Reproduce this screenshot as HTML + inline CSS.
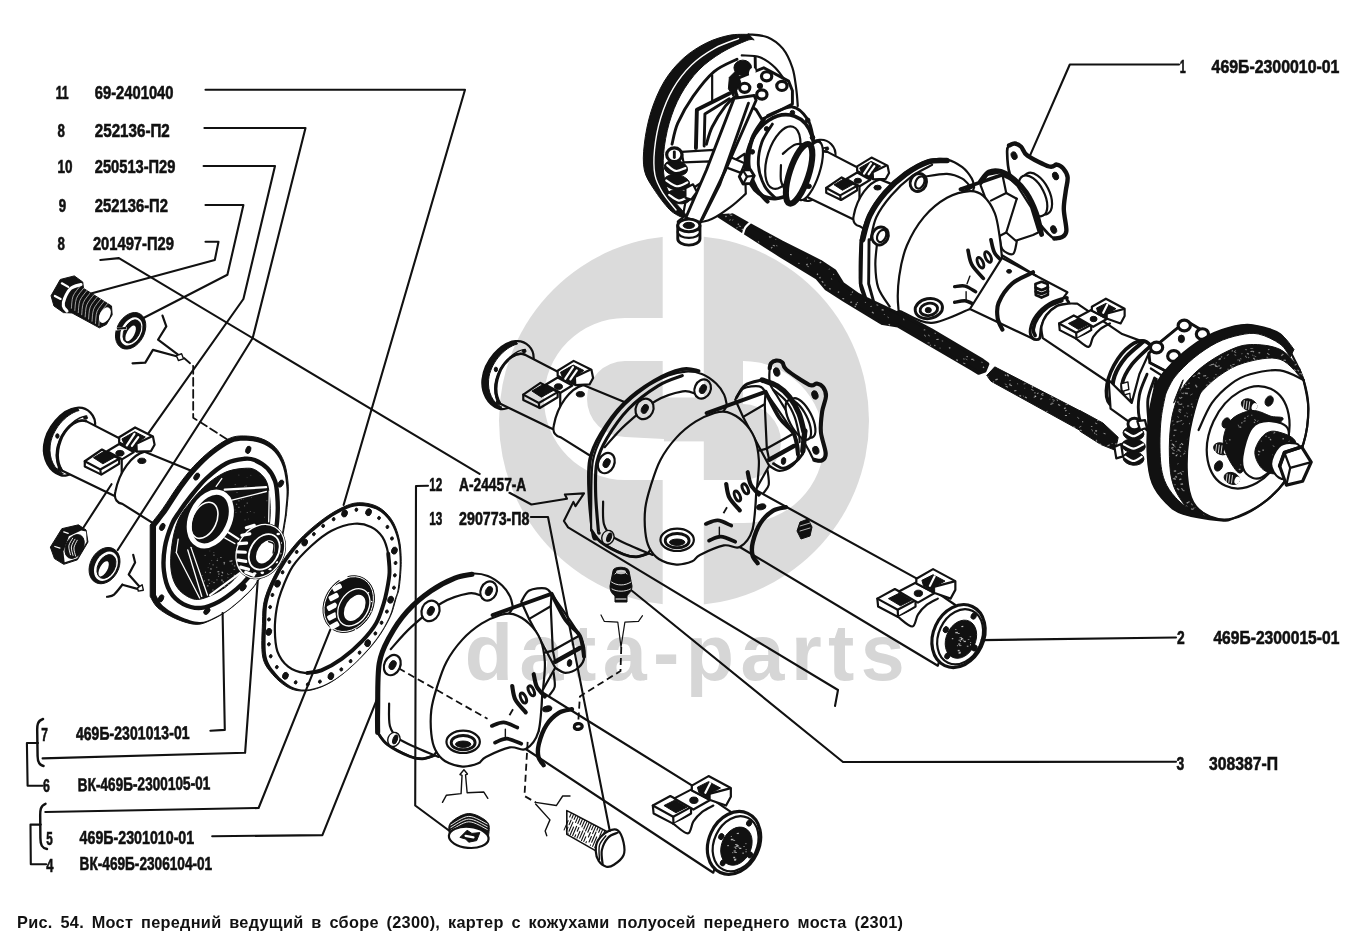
<!DOCTYPE html>
<html><head><meta charset="utf-8">
<style>
html,body{margin:0;padding:0;background:#fff;}
body{width:1370px;height:942px;overflow:hidden;position:relative;font-family:"Liberation Sans",sans-serif;}
svg{position:absolute;left:0;top:0;}
.lb{font-family:"Liberation Sans",sans-serif;font-weight:bold;font-size:18.5px;fill:#111;stroke:#111;stroke-width:0.6;}
.cap{font-family:"Liberation Sans",sans-serif;font-weight:bold;font-size:16.3px;fill:#111;}
.wm{font-family:"Liberation Sans",sans-serif;font-weight:bold;fill:#d6d6d6;}
path,ellipse,circle,line,polyline,polygon,rect{vector-effect:non-scaling-stroke;}
.k{fill:none;stroke:#111;stroke-width:2.2;stroke-linejoin:round;stroke-linecap:round;}
.k1{fill:none;stroke:#111;stroke-width:1.4;stroke-linejoin:round;stroke-linecap:round;}
.k2{fill:none;stroke:#111;stroke-width:2.9;stroke-linejoin:round;stroke-linecap:round;}
.k3{fill:none;stroke:#111;stroke-width:4.2;stroke-linejoin:round;stroke-linecap:round;}
.k4{fill:none;stroke:#111;stroke-width:6;stroke-linejoin:round;stroke-linecap:round;}
.f{fill:#111;stroke:#111;stroke-width:1;stroke-linejoin:round;}
.w{fill:#fff;stroke:#111;stroke-width:2.2;stroke-linejoin:round;stroke-linecap:round;}
.w1{fill:#fff;stroke:#111;stroke-width:1.4;stroke-linejoin:round;stroke-linecap:round;}
.w2{fill:#fff;stroke:#111;stroke-width:2.9;stroke-linejoin:round;stroke-linecap:round;}
.wn{fill:#fff;stroke:none;}
.wk{fill:none;stroke:#fff;stroke-width:1.3;stroke-linejoin:round;stroke-linecap:round;}
.wk2{fill:none;stroke:#fff;stroke-width:2.2;stroke-linejoin:round;stroke-linecap:round;}
.d{fill:none;stroke:#111;stroke-width:1.8;stroke-dasharray:7 4;}
.ln{fill:none;stroke:#111;stroke-width:2.1;stroke-linejoin:round;stroke-linecap:round;}
</style></head><body>
<svg width="1370" height="942" viewBox="0 0 1370 942">
<!-- 20_A_rod.svg -->
<g id="A_rod" transform="translate(630,20) scale(0.19108)">
<path class="f" d="M487.3 993.2 L612.3 1064 L795.7 1164 L995.7 1264 L1070.7 1314 L1112.3 1380.7 L1195.7 1439 L1425 1541.3 L1575 1621.3 L1845 1781.3 L1871 1800.3 L1857 1835.3 L1824 1847.3 L1792 1827.3 L1402 1599.3 L1322 1587.3 L1311 1581.7 L1119.3 1465 L1027.7 1406.7 L977.7 1348.3 L786 1231.7 L602.7 1115 L461 1023.3Z" stroke-linejoin="round" style="stroke-width:3.66"/>
<path class="f" d="M1867 1860.3 L1909 1815.3 L2355 2045.3 L2355 2044 L2475 2109 L2555 2184 L2540 2252 L2465 2222 L2355 2152 L2355 2147.3 L1889 1890.3Z"/>
<rect class="wn" x="1177" y="1494" width="7" height="7" opacity="0.55" transform="rotate(20 1177 1494)"/>
<rect class="wn" x="1845" y="1817" width="7" height="7" opacity="0.55" transform="rotate(-39 1845 1817)"/>
<rect class="wn" x="736" y="1192" width="9" height="6" opacity="0.55" transform="rotate(-40 736 1192)"/>
<rect class="wn" x="924" y="1246" width="6" height="3" opacity="0.55" transform="rotate(-29 924 1246)"/>
<rect class="wn" x="1153" y="1437" width="6" height="4" opacity="0.55" transform="rotate(-11 1153 1437)"/>
<rect class="wn" x="965" y="1259" width="5" height="3" opacity="0.55" transform="rotate(36 965 1259)"/>
<rect class="wn" x="1268" y="1526" width="11" height="6" opacity="0.55" transform="rotate(34 1268 1526)"/>
<rect class="wn" x="588" y="1091" width="9" height="6" opacity="0.55" transform="rotate(53 588 1091)"/>
<rect class="wn" x="1113" y="1455" width="5" height="5" opacity="0.55" transform="rotate(36 1113 1455)"/>
<rect class="wn" x="1594" y="1637" width="8" height="4" opacity="0.55" transform="rotate(9 1594 1637)"/>
<rect class="wn" x="518" y="1047" width="9" height="4" opacity="0.55" transform="rotate(-26 518 1047)"/>
<rect class="wn" x="1349" y="1552" width="10" height="3" opacity="0.55" transform="rotate(47 1349 1552)"/>
<rect class="wn" x="944" y="1272" width="8" height="3" opacity="0.55" transform="rotate(52 944 1272)"/>
<rect class="wn" x="1838" y="1789" width="9" height="3" opacity="0.55" transform="rotate(4 1838 1789)"/>
<rect class="wn" x="1164" y="1419" width="6" height="7" opacity="0.55" transform="rotate(39 1164 1419)"/>
<rect class="wn" x="990" y="1346" width="7" height="7" opacity="0.55" transform="rotate(-14 990 1346)"/>
<rect class="wn" x="768" y="1177" width="7" height="4" opacity="0.55" transform="rotate(54 768 1177)"/>
<rect class="wn" x="1007" y="1364" width="11" height="7" opacity="0.55" transform="rotate(50 1007 1364)"/>
<rect class="wn" x="560" y="1083" width="5" height="7" opacity="0.55" transform="rotate(38 560 1083)"/>
<rect class="wn" x="1186" y="1478" width="7" height="4" opacity="0.55" transform="rotate(-17 1186 1478)"/>
<rect class="wn" x="570" y="1075" width="11" height="6" opacity="0.55" transform="rotate(14 570 1075)"/>
<rect class="wn" x="736" y="1134" width="5" height="5" opacity="0.55" transform="rotate(-30 736 1134)"/>
<rect class="wn" x="1557" y="1688" width="11" height="4" opacity="0.55" transform="rotate(2 1557 1688)"/>
<rect class="wn" x="1542" y="1646" width="11" height="4" opacity="0.55" transform="rotate(52 1542 1646)"/>
<rect class="wn" x="1086" y="1424" width="8" height="6" opacity="0.55" transform="rotate(-39 1086 1424)"/>
<rect class="wn" x="1257" y="1498" width="9" height="4" opacity="0.55" transform="rotate(-16 1257 1498)"/>
<rect class="wn" x="498" y="1025" width="8" height="7" opacity="0.55" transform="rotate(-5 498 1025)"/>
<rect class="wn" x="563" y="1066" width="7" height="7" opacity="0.55" transform="rotate(-10 563 1066)"/>
<rect class="wn" x="1786" y="1773" width="12" height="7" opacity="0.55" transform="rotate(-1 1786 1773)"/>
<rect class="wn" x="980" y="1326" width="7" height="7" opacity="0.55" transform="rotate(32 980 1326)"/>
<rect class="wn" x="1116" y="1455" width="5" height="7" opacity="0.55" transform="rotate(6 1116 1455)"/>
<rect class="wn" x="1055" y="1352" width="7" height="4" opacity="0.55" transform="rotate(54 1055 1352)"/>
<rect class="wn" x="1757" y="1772" width="12" height="3" opacity="0.55" transform="rotate(34 1757 1772)"/>
<rect class="wn" x="1745" y="1793" width="12" height="5" opacity="0.55" transform="rotate(22 1745 1793)"/>
<rect class="wn" x="1712" y="1774" width="10" height="7" opacity="0.55" transform="rotate(58 1712 1774)"/>
<rect class="wn" x="1619" y="1715" width="7" height="3" opacity="0.55" transform="rotate(5 1619 1715)"/>
<rect class="wn" x="1016" y="1387" width="6" height="6" opacity="0.55" transform="rotate(-39 1016 1387)"/>
<rect class="wn" x="1668" y="1714" width="8" height="7" opacity="0.55" transform="rotate(-21 1668 1714)"/>
<rect class="wn" x="927" y="1285" width="12" height="3" opacity="0.55" transform="rotate(31 927 1285)"/>
<rect class="wn" x="1572" y="1698" width="7" height="5" opacity="0.55" transform="rotate(58 1572 1698)"/>
<rect class="wn" x="1184" y="1483" width="8" height="7" opacity="0.55" transform="rotate(51 1184 1483)"/>
<rect class="wn" x="1328" y="1540" width="5" height="4" opacity="0.55" transform="rotate(-15 1328 1540)"/>
<rect class="wn" x="991" y="1268" width="9" height="7" opacity="0.55" transform="rotate(-32 991 1268)"/>
<rect class="wn" x="1231" y="1474" width="7" height="4" opacity="0.55" transform="rotate(43 1231 1474)"/>
<rect class="wn" x="882" y="1270" width="6" height="6" opacity="0.55" transform="rotate(17 882 1270)"/>
<rect class="wn" x="525" y="1019" width="10" height="5" opacity="0.55" transform="rotate(1 525 1019)"/>
<rect class="wn" x="1761" y="1759" width="8" height="5" opacity="0.55" transform="rotate(5 1761 1759)"/>
<rect class="wn" x="1356" y="1589" width="8" height="7" opacity="0.55" transform="rotate(40 1356 1589)"/>
<rect class="wn" x="1318" y="1512" width="11" height="7" opacity="0.55" transform="rotate(16 1318 1512)"/>
<rect class="wn" x="1561" y="1646" width="12" height="3" opacity="0.55" transform="rotate(43 1561 1646)"/>
<rect class="wn" x="1039" y="1304" width="8" height="3" opacity="0.55" transform="rotate(-24 1039 1304)"/>
<rect class="wn" x="1537" y="1620" width="8" height="5" opacity="0.55" transform="rotate(-8 1537 1620)"/>
<rect class="wn" x="1795" y="1781" width="8" height="3" opacity="0.55" transform="rotate(-20 1795 1781)"/>
<rect class="wn" x="748" y="1176" width="12" height="5" opacity="0.55" transform="rotate(20 748 1176)"/>
<rect class="wn" x="518" y="1014" width="12" height="7" opacity="0.55" transform="rotate(-39 518 1014)"/>
<rect class="wn" x="1432" y="1562" width="10" height="4" opacity="0.55" transform="rotate(60 1432 1562)"/>
<rect class="wn" x="1064" y="1328" width="5" height="6" opacity="0.55" transform="rotate(9 1064 1328)"/>
<rect class="wn" x="1743" y="1772" width="9" height="3" opacity="0.55" transform="rotate(8 1743 1772)"/>
<rect class="wn" x="672" y="1157" width="8" height="5" opacity="0.55" transform="rotate(47 672 1157)"/>
<rect class="wn" x="731" y="1130" width="10" height="7" opacity="0.55" transform="rotate(48 731 1130)"/>
<rect class="wn" x="1152" y="1474" width="10" height="6" opacity="0.55" transform="rotate(-4 1152 1474)"/>
<rect class="wn" x="1042" y="1404" width="10" height="5" opacity="0.55" transform="rotate(10 1042 1404)"/>
<rect class="wn" x="921" y="1278" width="8" height="7" opacity="0.55" transform="rotate(-24 921 1278)"/>
<rect class="wn" x="1632" y="1677" width="7" height="4" opacity="0.55" transform="rotate(8 1632 1677)"/>
<rect class="wn" x="838" y="1224" width="9" height="6" opacity="0.55" transform="rotate(9 838 1224)"/>
<rect class="wn" x="533" y="1048" width="9" height="3" opacity="0.55" transform="rotate(-40 533 1048)"/>
<rect class="wn" x="1603" y="1669" width="12" height="6" opacity="0.55" transform="rotate(-1 1603 1669)"/>
<rect class="wn" x="1593" y="1700" width="6" height="6" opacity="0.55" transform="rotate(11 1593 1700)"/>
<rect class="wn" x="762" y="1146" width="5" height="4" opacity="0.55" transform="rotate(29 762 1146)"/>
<rect class="wn" x="1291" y="1487" width="10" height="6" opacity="0.55" transform="rotate(20 1291 1487)"/>
<rect class="wn" x="2342" y="2077" width="13" height="3" opacity="0.55" transform="rotate(44 2342 2077)"/>
<rect class="wn" x="2119" y="1963" width="8" height="3" opacity="0.55" transform="rotate(33 2119 1963)"/>
<rect class="wn" x="1902" y="1890" width="6" height="6" opacity="0.55" transform="rotate(37 1902 1890)"/>
<rect class="wn" x="2195" y="1983" width="5" height="3" opacity="0.55" transform="rotate(-16 2195 1983)"/>
<rect class="wn" x="2112" y="1973" width="11" height="5" opacity="0.55" transform="rotate(-26 2112 1973)"/>
<rect class="wn" x="2040" y="1961" width="10" height="7" opacity="0.55" transform="rotate(33 2040 1961)"/>
<rect class="wn" x="2010" y="1938" width="12" height="6" opacity="0.55" transform="rotate(-10 2010 1938)"/>
<rect class="wn" x="2102" y="1920" width="5" height="7" opacity="0.55" transform="rotate(-35 2102 1920)"/>
<rect class="wn" x="2203" y="1969" width="12" height="4" opacity="0.55" transform="rotate(17 2203 1969)"/>
<rect class="wn" x="2063" y="1926" width="5" height="3" opacity="0.55" transform="rotate(-24 2063 1926)"/>
<rect class="wn" x="1962" y="1902" width="12" height="3" opacity="0.55" transform="rotate(31 1962 1902)"/>
<rect class="wn" x="2412" y="2125" width="8" height="5" opacity="0.55" transform="rotate(-6 2412 2125)"/>
<rect class="wn" x="1964" y="1854" width="9" height="5" opacity="0.55" transform="rotate(49 1964 1854)"/>
<rect class="wn" x="1987" y="1906" width="14" height="6" opacity="0.55" transform="rotate(22 1987 1906)"/>
<rect class="wn" x="2101" y="1919" width="10" height="3" opacity="0.55" transform="rotate(-12 2101 1919)"/>
<rect class="wn" x="2059" y="1903" width="11" height="5" opacity="0.55" transform="rotate(-12 2059 1903)"/>
<rect class="wn" x="2211" y="1985" width="13" height="4" opacity="0.55" transform="rotate(18 2211 1985)"/>
<rect class="wn" x="2115" y="1949" width="7" height="6" opacity="0.55" transform="rotate(-12 2115 1949)"/>
<rect class="wn" x="2207" y="2002" width="10" height="5" opacity="0.55" transform="rotate(12 2207 2002)"/>
<rect class="wn" x="2146" y="1981" width="11" height="6" opacity="0.55" transform="rotate(-17 2146 1981)"/>
<rect class="wn" x="1983" y="1904" width="9" height="3" opacity="0.55" transform="rotate(-6 1983 1904)"/>
<rect class="wn" x="2441" y="2196" width="10" height="5" opacity="0.55" transform="rotate(58 2441 2196)"/>
<rect class="wn" x="1984" y="1886" width="9" height="4" opacity="0.55" transform="rotate(-17 1984 1886)"/>
<rect class="wn" x="2068" y="1970" width="11" height="6" opacity="0.55" transform="rotate(26 2068 1970)"/>
<rect class="wn" x="2366" y="2099" width="5" height="7" opacity="0.55" transform="rotate(-11 2366 2099)"/>
<rect class="wn" x="2438" y="2164" width="11" height="3" opacity="0.55" transform="rotate(43 2438 2164)"/>
<rect class="wn" x="2435" y="2146" width="10" height="7" opacity="0.55" transform="rotate(8 2435 2146)"/>
<rect class="wn" x="2101" y="1931" width="14" height="4" opacity="0.55" transform="rotate(29 2101 1931)"/>
<rect class="wn" x="2058" y="1965" width="6" height="3" opacity="0.55" transform="rotate(54 2058 1965)"/>
<rect class="wn" x="2270" y="2030" width="10" height="7" opacity="0.55" transform="rotate(-21 2270 2030)"/>
<rect class="wn" x="2276" y="2067" width="11" height="5" opacity="0.55" transform="rotate(-1 2276 2067)"/>
<rect class="wn" x="2497" y="2227" width="14" height="6" opacity="0.55" transform="rotate(-31 2497 2227)"/>
<rect class="wn" x="2119" y="1968" width="7" height="5" opacity="0.55" transform="rotate(3 2119 1968)"/>
<rect class="wn" x="2027" y="1901" width="6" height="4" opacity="0.55" transform="rotate(35 2027 1901)"/>
<rect class="wn" x="2199" y="2008" width="11" height="5" opacity="0.55" transform="rotate(-6 2199 2008)"/>
<rect class="wn" x="2358" y="2143" width="8" height="7" opacity="0.55" transform="rotate(27 2358 2143)"/>
<rect class="wn" x="2320" y="2127" width="10" height="5" opacity="0.55" transform="rotate(11 2320 2127)"/>
<rect class="wn" x="2479" y="2160" width="11" height="5" opacity="0.55" transform="rotate(21 2479 2160)"/>
<rect class="wn" x="2156" y="1952" width="9" height="6" opacity="0.55" transform="rotate(12 2156 1952)"/>
<rect class="wn" x="2178" y="2047" width="8" height="4" opacity="0.55" transform="rotate(-14 2178 2047)"/>
<rect class="wn" x="1967" y="1914" width="13" height="5" opacity="0.55" transform="rotate(27 1967 1914)"/>
<rect class="wn" x="2431" y="2158" width="7" height="4" opacity="0.55" transform="rotate(57 2431 2158)"/>
<rect class="wn" x="2242" y="2009" width="12" height="7" opacity="0.55" transform="rotate(26 2242 2009)"/>
<rect class="wn" x="2444" y="2096" width="11" height="5" opacity="0.55" transform="rotate(-38 2444 2096)"/>
<rect class="wn" x="2213" y="1996" width="7" height="3" opacity="0.55" transform="rotate(2 2213 1996)"/>
<rect class="wn" x="2417" y="2141" width="13" height="3" opacity="0.55" transform="rotate(59 2417 2141)"/>
<rect class="wn" x="1911" y="1880" width="13" height="7" opacity="0.55" transform="rotate(-19 1911 1880)"/>
<rect class="wn" x="2152" y="1957" width="14" height="5" opacity="0.55" transform="rotate(28 2152 1957)"/>
<rect class="wn" x="2296" y="2059" width="7" height="3" opacity="0.55" transform="rotate(0 2296 2059)"/>
<rect class="wn" x="2435" y="2107" width="12" height="4" opacity="0.55" transform="rotate(25 2435 2107)"/>
<rect class="wn" x="2234" y="1985" width="10" height="4" opacity="0.55" transform="rotate(46 2234 1985)"/>
<rect class="wn" x="2349" y="2131" width="14" height="4" opacity="0.55" transform="rotate(-35 2349 2131)"/>
<rect class="wn" x="1976" y="1853" width="12" height="7" opacity="0.55" transform="rotate(48 1976 1853)"/>
<rect class="wn" x="2276" y="2044" width="9" height="5" opacity="0.55" transform="rotate(-30 2276 2044)"/>
<rect class="wn" x="2279" y="2012" width="13" height="4" opacity="0.55" transform="rotate(-15 2279 2012)"/>
<rect class="wn" x="1874" y="1862" width="5" height="5" opacity="0.55" transform="rotate(57 1874 1862)"/>
<rect class="wn" x="2520" y="2214" width="6" height="3" opacity="0.55" transform="rotate(1 2520 2214)"/>
<rect class="wn" x="2460" y="2215" width="11" height="6" opacity="0.55" transform="rotate(48 2460 2215)"/>
<rect class="wn" x="2539" y="2217" width="6" height="6" opacity="0.55" transform="rotate(-24 2539 2217)"/>
<rect class="wn" x="2129" y="1954" width="9" height="5" opacity="0.55" transform="rotate(-31 2129 1954)"/>
<path class="wk2" d="M633 1056.3 C628.1 1061.2 610.8 1075.1 603.8 1085.5 C596.9 1095.9 593.4 1113.3 591.3 1118.8"/>
</g>

<!-- 20b_A_ltube.svg -->
<use href="#D_tube" transform="translate(871.5,157.6) scale(0.9) translate(-135.1,-427.5)"/>

<!-- 21_A_left.svg -->
<g id="A_left" transform="translate(630,20) scale(0.19108)">
<path class="wn" d="M620 75 C636.7 77.5 690 77.5 720 90 C750 102.5 778.3 123.3 800 150 C821.7 176.7 838.3 215 850 250 C861.7 285 865.3 326.7 870 360 C874.7 393.3 876.7 435 878 450 L900 700 L700 1000 L300 1028 L300 1026 C294.7 1020 282.3 1007.3 268 990 C253.7 972.7 228.7 948.7 214 922 C199.3 895.3 186.3 867.3 180 830 C173.7 792.7 171.8 746.3 176 698 C180.2 649.7 190.2 591 205 540 C219.8 489 239.2 438.3 265 392 C290.8 345.7 324.2 299 360 262 C395.8 225 438.3 195.7 480 170 C521.7 144.3 581.7 119 610 108 C638.3 97 643.3 104.7 650 104Z"/>
<path class="k" d="M620 75 C636.7 77.5 690 77.5 720 90 C750 102.5 778.3 123.3 800 150 C821.7 176.7 838.3 215 850 250 C861.7 285 865.3 326.7 870 360 C874.7 393.3 876.7 435 878 450"/>
<path class="w" d="M275 1035 C272 1039.3 234.8 1058.7 257 1061 C279.2 1063.3 363.3 1062.7 408 1049 C452.7 1035.3 492 1002.3 525 979 C558 955.7 592.5 920.7 606 909 L600 700 L300 900Z"/>
<path class="f" d="M620 75 C603.3 75.8 556.7 72.5 520 80 C483.3 87.5 440 100 400 120 C360 140 316.7 166.7 280 200 C243.3 233.3 208.3 273.3 180 320 C151.7 366.7 127.5 425 110 480 C92.5 535 80.8 599.2 75 650 C69.2 700.8 66.7 745.8 75 785 C83.3 824.2 102.8 850.3 125 885 C147.2 919.7 183 968 208 993 C233 1018 263.8 1028 275 1035 L300 1026 C294.7 1020 282.3 1007.3 268 990 C253.7 972.7 228.7 948.7 214 922 C199.3 895.3 186.3 867.3 180 830 C173.7 792.7 171.8 746.3 176 698 C180.2 649.7 190.2 591 205 540 C219.8 489 239.2 438.3 265 392 C290.8 345.7 324.2 299 360 262 C395.8 225 438.3 195.7 480 170 C521.7 144.3 581.7 119 610 108 C638.3 97 643.3 104.7 650 104Z"/>
<path class="wk" d="M568 97 C547.2 105.5 483.8 125.2 443 148 C402.2 170.8 359.2 198.8 323 234 C286.8 269.2 252.6 312.5 225.5 359 C198.4 405.5 176.7 460 160.5 513 C144.3 566 133.5 627.4 128.5 677 C123.5 726.6 123.2 772.2 130.5 810.5 C137.8 848.8 154.1 875.8 172.5 906.5 C190.9 937.2 229.6 979.8 241 994.5" style="stroke-width:1.40"/>
<path class="k2" d="M560 205 C540 215.8 478.3 237.5 440 270 C401.7 302.5 361.7 355 330 400 C298.3 445 268.3 498.3 250 540 C231.7 581.7 225 631.7 220 650"/>
<path class="k" d="M585 185 C600.8 186.7 650.8 184.2 680 195 C709.2 205.8 736.7 227.5 760 250 C783.3 272.5 810 316.7 820 330"/>
<path class="k2" d="M655 195 L660 460"/>
<path class="w" d="M545 335 L575 300 L700 250 L830 320 L850 370 L850 440 L690 520 L660 470 L560 400Z" style="stroke-width:2.93"/>
<ellipse class="f" cx="590" cy="250" rx="46" ry="40"/>
<ellipse class="wn" cx="640" cy="275" rx="17" ry="26" transform="rotate(15 640 275)"/>
<path class="f" d="M520 300 L560 260 L580 330 L540 400 L515 360Z"/>
<ellipse class="w" cx="600" cy="355" rx="27" ry="24" style="stroke-width:3.17"/>
<ellipse class="w" cx="715" cy="295" rx="27" ry="24" style="stroke-width:3.17"/>
<ellipse class="w" cx="690" cy="390" rx="27" ry="24" style="stroke-width:3.17"/>
<ellipse class="w" cx="795" cy="345" rx="27" ry="24" style="stroke-width:3.17"/>
<ellipse class="f" cx="680" cy="345" rx="14" ry="14"/>
<path class="k3" d="M345 670 L350 470 L520 385" style="stroke-width:3.90"/>
<path class="k2" d="M388 660 L392 492 L520 412"/>
<path class="k" d="M430 290 L430 425"/>
<path class="k2" d="M400 650 C405 635 413.3 593.3 430 560 C446.7 526.7 478.3 478 500 450 C521.7 422 550 401.7 560 392"/>
<path class="k2" d="M470 640 C478.3 620 500 554.7 520 520 C540 485.3 578.3 446.7 590 432"/>
<path class="w" d="M270 690 L440 680 L600 750 L580 800 L420 740 L280 745Z"/>
<ellipse class="w" cx="785" cy="715" rx="170" ry="225" transform="rotate(20 785 715)" style="stroke-width:3.66"/>
<path class="k3" d="M700 520 C690 536.7 653.3 580 640 620 C626.7 660 616.7 716.7 620 760 C623.3 803.3 643.3 848.3 660 880 C676.7 911.7 710 938.3 720 950" style="stroke-width:4.15"/>
<path class="k2" d="M720 500 C741.7 492.5 815 451.7 850 455 C885 458.3 911.7 492.5 930 520 C948.3 547.5 955 603.3 960 620"/>
<path class="k2" d="M745 545 C735.8 560.8 702.2 604.2 690 640 C677.8 675.8 669.5 721.7 672 760 C674.5 798.3 689.5 840.8 705 870 C720.5 899.2 755 924.2 765 935"/>
<ellipse class="f" cx="850" cy="485" rx="12" ry="12"/>
<ellipse class="f" cx="930" cy="525" rx="12" ry="12"/>
<ellipse class="f" cx="955" cy="615" rx="12" ry="12"/>
<ellipse class="f" cx="715" cy="570" rx="12" ry="12"/>
<ellipse class="f" cx="640" cy="690" rx="12" ry="12"/>
<ellipse class="w" cx="800" cy="720" rx="80" ry="170" transform="rotate(18 800 720)"/>
<path class="k" d="M800 700 C811.7 691.7 843.3 656.7 870 650 C896.7 643.3 945 658.3 960 660"/>
<path class="k" d="M790 760 C790 773.3 786.7 818.3 790 840 C793.3 861.7 806.7 881.7 810 890"/>
<ellipse class="w" cx="940" cy="790" rx="52" ry="160" transform="rotate(18 940 790)"/>
<ellipse class="w" cx="885" cy="805" rx="50" ry="163" transform="rotate(18 885 805)" style="stroke-width:6.10"/>
<ellipse class="f" cx="935" cy="870" rx="14" ry="12"/>
<path class="w" d="M572 820 L590 785 L630 782 L650 815 L632 855 L592 858Z" style="stroke-width:2.93"/>
<path class="k" d="M590 785 L612 820 L650 815"/>
<path class="k" d="M612 820 L592 858"/>
<path class="w" d="M545 410 L650 395 L660 420 L500 785 L367 1060 L292 1035 L400 785Z" style="stroke-width:2.93"/>
<path class="k2" d="M620 435 L470 860 L380 1040"/>
<path class="w" d="M250 1075 L250 1145 A58 33 0 0 0 366 1145 L366 1075 Z" style="stroke-width:2.93"/>
<ellipse class="w" cx="308" cy="1110" rx="58" ry="30"/>
<ellipse class="w" cx="308" cy="1075" rx="58" ry="33" style="stroke-width:2.93"/>
<ellipse class="f" cx="308" cy="1075" rx="30" ry="16"/>
<ellipse class="f" cx="240" cy="775" rx="62" ry="40" transform="rotate(10 240 775)"/>
<ellipse class="f" cx="245" cy="850" rx="68" ry="40" transform="rotate(10 245 850)"/>
<ellipse class="f" cx="255" cy="925" rx="62" ry="36" transform="rotate(10 255 925)"/>
<path class="wk2" d="M195 760 C202.5 765 224.2 787.5 240 790 C255.8 792.5 281.7 777.5 290 775"/>
<path class="wk2" d="M190 840 C199.2 845 226.7 868.3 245 870 C263.3 871.7 290.8 853.3 300 850"/>
<path class="wk2" d="M205 915 C213.3 920 238.3 943.3 255 945 C271.7 946.7 296.7 928.3 305 925"/>
<ellipse class="w" cx="232" cy="705" rx="40" ry="36" style="stroke-width:3.17"/>
<path class="k2" d="M232 690 L232 720"/>
<path class="w" d="M290 880 L330 860 L350 900 L320 940 L290 930Z"/>
</g>

<!-- 22_A_center.svg -->
<g id="A_center" transform="translate(630,20) scale(0.19108)">
<path class="w" d="M1229 1450.3 C1224.8 1438.7 1207.3 1430.3 1204 1380.3 C1200.7 1330.3 1201.5 1210.3 1209 1150.3 C1216.5 1090.3 1229 1062 1249 1020.3 C1269 978.7 1297.3 937 1329 900.3 C1360.7 863.7 1400.7 827.8 1439 800.3 C1477.3 772.8 1522.3 747 1559 735.3 C1595.7 723.7 1629 724.5 1659 730.3 C1689 736.2 1717.3 753.7 1739 770.3 C1760.7 787 1778.7 812.8 1789 830.3 C1799.3 847.8 1799 867.8 1801 875.3 L1698.9930000000002 1180.329 L1398.9929999999997 1530.329 Z"/>
<path class="k3" d="M1217 1150.3 C1223.3 1129.2 1235.3 1064.3 1255 1023.3 C1274.7 982.3 1303.5 940.7 1335 904.3 C1366.5 868 1406.3 832.3 1444 805.3 C1481.7 778.3 1525.2 754 1561 742.3 C1596.8 730.7 1642.7 736.5 1659 735.3" style="stroke-width:5.61"/>
<path class="k" d="M1259 1150.3 C1264 1130.7 1271 1071 1289 1032.3 C1307 993.7 1336.2 954 1367 918.3 C1397.8 882.7 1438.3 845 1474 818.3 C1509.7 791.7 1563.2 768.3 1581 758.3"/>
<path class="k3" d="M1211 1150.3 L1207 1380.3 L1231 1452.3" style="stroke-width:3.66"/>
<path class="k2" d="M1251 1150.3 L1249 1380.3 L1274 1470.3"/>
<path class="k" d="M1294 1160.3 C1292.3 1180.3 1283.2 1240.3 1284 1280.3 C1284.8 1320.3 1286.5 1363.7 1299 1400.3 C1311.5 1437 1349 1483.7 1359 1500.3"/>
<path class="k" d="M1539 820.3 C1559 817.8 1625.7 803.7 1659 805.3 C1692.3 807 1718.2 818.7 1739 830.3 C1759.8 842 1776.5 867.8 1784 875.3"/>
<ellipse class="w" cx="1509" cy="850.3" rx="42" ry="48" transform="rotate(25 1509 850.3)" style="stroke-width:2.93"/>
<ellipse class="k" cx="1517" cy="850.3" rx="22" ry="34" transform="rotate(25 1517 850.3)"/>
<ellipse class="w" cx="1309" cy="1130.3" rx="42" ry="48" transform="rotate(25 1309 1130.3)" style="stroke-width:2.93"/>
<ellipse class="k" cx="1317" cy="1130.3" rx="22" ry="34" transform="rotate(25 1317 1130.3)"/>
<path class="w" d="M1973.7 690 C1973.1 665.6 1977 663.9 1983.7 656.6 C1990.4 649.4 2003.1 645.5 2013.7 646.6 C2024.2 647.7 2035.9 652.8 2047 663.3 C2058.1 673.9 2055.8 692.8 2080.3 710 C2104.7 727.2 2168.1 758.9 2193.7 766.6 C2219.3 774.4 2221.5 755 2233.7 756.6 C2245.9 758.3 2257.6 765.5 2267 776.6 C2276.4 787.7 2288.1 803.3 2290.3 823.3 C2292.5 843.3 2283.6 868.8 2280.3 896.6 C2277 924.4 2269.7 955.6 2270.3 990 C2270.9 1024.5 2285.4 1078.9 2283.7 1103.3 C2282 1127.8 2270.9 1130 2260.3 1136.6 C2249.7 1143.3 2232.5 1146.7 2220.3 1143.3 C2208.1 1140 2200.5 1130.5 2187 1116.6 C2173.4 1102.8 2162 1091.4 2139 1060.3 C2116 1029.3 2074.3 973.2 2049 930.3 C2023.7 887.5 1999.5 843.4 1987 803.3 C1974.4 763.3 1974.2 714.5 1973.7 690Z" style="stroke-width:2.68"/>
<path class="k3" d="M1983.7 656.6 C1988.7 655 2003.1 645.5 2013.7 646.6 C2024.2 647.7 2035.9 652.8 2047 663.3 C2058.1 673.9 2055.8 692.8 2080.3 710 C2104.7 727.2 2168.1 758.9 2193.7 766.6 C2219.3 774.4 2221.5 755 2233.7 756.6 C2245.9 758.3 2257.6 765.5 2267 776.6 C2276.4 787.7 2288.1 803.3 2290.3 823.3 C2292.5 843.3 2283.6 868.8 2280.3 896.6 C2277 924.4 2269.7 955.6 2270.3 990 C2270.9 1024.5 2285.4 1078.9 2283.7 1103.3 C2282 1127.8 2270.9 1130 2260.3 1136.6 C2249.7 1143.3 2227 1142.2 2220.3 1143.3" style="stroke-width:4.39"/>
<ellipse class="f" cx="2010.3" cy="710" rx="15" ry="21" transform="rotate(-20 2010.3 710)"/>
<ellipse class="f" cx="2227" cy="816.6" rx="15" ry="21" transform="rotate(-20 2227 816.6)"/>
<ellipse class="f" cx="2217" cy="1096.6" rx="15" ry="21" transform="rotate(-20 2217 1096.6)"/>
<ellipse class="w" cx="2132" cy="908.3" rx="62" ry="118" transform="rotate(-27 2132 908.3)"/>
<ellipse class="w" cx="2109" cy="920.3" rx="60" ry="116" transform="rotate(-27 2109 920.3)"/>
<path class="w" d="M1834 862.3 L1869 810.3 L1949 795.3 L2029 870.3 L2099 980.3 L2139 1110.3 L2109 1125.3 L2019 1155.3 L1969 1112.3 L1934 1130.3Z"/>
<path class="k" d="M1889 945.3 L1969 905.3 L2024 935.3"/>
<path class="k" d="M1969 905.3 L1949 810.3"/>
<path class="k" d="M1969 1112.3 L2024 935.3"/>
<path class="k" d="M1934 1130.3 C1936.5 1142 1937.3 1184.5 1949 1200.3 C1960.7 1216.2 1991.5 1232 2004 1225.3 C2016.5 1218.7 2020.7 1171.2 2024 1160.3"/>
<path class="k3" d="M1834 845.3 C1841.5 837 1861.2 804.2 1879 795.3 C1896.8 786.5 1919.7 786.5 1941 792.3 C1962.3 798.2 1984.8 812 2007 830.3 C2029.2 848.7 2054 872.3 2074 902.3 C2094 932.3 2113.7 973.7 2127 1010.3 C2140.3 1047 2149.5 1103.7 2154 1122.3" style="stroke-width:4.88"/>
<path class="k2" d="M1947 810.3 C1960.7 818.3 2004.5 835 2029 858.3 C2053.5 881.7 2075.7 914.2 2094 950.3 C2112.3 986.5 2131.5 1054.5 2139 1075.3"/>
<path class="wn" d="M1404 1500.3 C1400.7 1468.7 1401.5 1393.7 1409 1340.3 C1416.5 1287 1427.3 1232 1449 1180.3 C1470.7 1128.7 1504 1072 1539 1030.3 C1574 988.7 1619 952.8 1659 930.3 C1699 907.8 1747.3 897 1779 895.3 C1810.7 893.7 1827.3 901.2 1849 920.3 C1870.7 939.5 1894.8 975.3 1909 1010.3 C1923.2 1045.3 1927.7 1091.2 1934 1130.3 C1940.3 1169.5 1936.2 1203.7 1947 1245.3 C1957.8 1287 2002 1320.8 1999 1380.3 C1996 1439.8 1965.7 1580.3 1929 1602.3 C1892.3 1624.3 1837.3 1515.2 1779 1512.3 C1720.7 1509.5 1637.3 1582.3 1579 1585.3 C1520.7 1588.3 1458.2 1544.5 1429 1530.3 C1399.8 1516.2 1407.3 1532 1404 1500.3Z"/>
<path class="k" d="M1779 1512.3 C1745.7 1524.5 1637.3 1582.3 1579 1585.3 C1520.7 1588.3 1458.2 1544.5 1429 1530.3 C1399.8 1516.2 1407.3 1532 1404 1500.3 C1400.7 1468.7 1401.5 1393.7 1409 1340.3 C1416.5 1287 1427.3 1232 1449 1180.3 C1470.7 1128.7 1504 1072 1539 1030.3 C1574 988.7 1619 952.8 1659 930.3 C1699 907.8 1747.3 897 1779 895.3 C1810.7 893.7 1827.3 901.2 1849 920.3 C1870.7 939.5 1894.8 975.3 1909 1010.3 C1923.2 1045.3 1927.7 1091.2 1934 1130.3 C1940.3 1169.5 1944.8 1226.2 1947 1245.3"/>
<path class="k3" d="M1729 885.3 L1949 810.3" style="stroke-width:3.66"/>
<path class="k2" d="M1729 885.3 C1732.3 887 1739 897 1749 895.3 C1759 893.7 1782.3 878.7 1789 875.3"/>
<ellipse class="w" cx="1564" cy="1510.3" rx="72" ry="52" transform="rotate(-10 1564 1510.3)" style="stroke-width:2.93"/>
<ellipse class="k2" cx="1564" cy="1514.3" rx="46" ry="32" transform="rotate(-10 1564 1514.3)"/>
<ellipse class="f" cx="1561" cy="1518.3" rx="16" ry="14"/>
<path class="k3" d="M1769 1205.3 C1772.3 1217.8 1775.7 1255.8 1789 1280.3 C1802.3 1304.8 1839 1340.3 1849 1352.3" style="stroke-width:3.66"/>
<path class="k3" d="M1889 1150.3 C1892.3 1162 1897.3 1200 1909 1220.3 C1920.7 1240.7 1950.7 1263.7 1959 1272.3" style="stroke-width:3.66"/>
<ellipse class="k2" cx="1834" cy="1270.3" rx="14" ry="30" transform="rotate(-25 1834 1270.3)"/>
<ellipse class="k2" cx="1874" cy="1240.3" rx="14" ry="30" transform="rotate(-25 1874 1240.3)"/>
<path class="k3" d="M1699 1395.3 C1708.2 1394.8 1735.7 1387.8 1754 1392.3 C1772.3 1396.8 1799.8 1417.3 1809 1422.3" style="stroke-width:3.42"/>
<path class="k3" d="M1699 1477.3 C1709 1476.2 1739.8 1467 1759 1470.3 C1778.2 1473.7 1804.8 1492.8 1814 1497.3" style="stroke-width:3.42"/>
<path class="k1" d="M1759 1422.3 L1759 1470.3"/>
<path class="k1" d="M1779 1340.3 L1764 1380.3"/>
<path class="w" d="M1947 1245.3 L2289 1425.3 L2109 1668.3 L1779 1512.3Z"/>
<path class="k3" d="M2109 1320.3 C2090.7 1330.3 2029 1353.7 1999 1380.3 C1969 1407 1941.5 1450.3 1929 1480.3 C1916.5 1510.3 1920.7 1537 1924 1560.3 C1927.3 1583.7 1944.8 1610.3 1949 1620.3" style="stroke-width:4.15"/>
<ellipse class="f" cx="1984" cy="1315.3" rx="13" ry="10"/>
<path class="w" d="M2121.7 1381.3 L2153.7 1370 L2185.7 1381.3 L2187 1438 L2153.7 1452.7 L2123.7 1439.3Z" style="stroke-width:2.68"/>
<path class="k2" d="M2123.7 1401.3 C2128.7 1403.2 2143.1 1413 2153.7 1412.7 C2164.2 1412.3 2181.4 1401.5 2187 1399.3"/>
<path class="k2" d="M2123.7 1421.3 C2128.7 1423.2 2143.1 1433 2153.7 1432.7 C2164.2 1432.3 2181.4 1421.5 2187 1419.3"/>
<path class="k" d="M1947 1231.3 L2127 1339.3"/>
<path class="w" d="M2280.3 1452.7 C2264.8 1456 2219.2 1469.3 2193.7 1484.7 C2168.1 1500 2143.4 1522.4 2127 1544.7 C2110.5 1566.9 2098.1 1597.8 2095 1618 C2091.9 1638.2 2100.2 1658 2108.3 1666 C2116.4 1674 2136.1 1676.2 2143.7 1666 C2151.2 1655.8 2147.5 1624.9 2153.7 1604.7 C2159.8 1584.4 2167 1562.4 2180.3 1544.7 C2193.7 1526.9 2214.8 1508 2233.7 1498 C2252.5 1488 2284.8 1490.2 2293.7 1484.7 C2302.5 1479.1 2289.2 1470 2287 1464.7 C2284.8 1459.3 2295.9 1449.3 2280.3 1452.7Z" style="stroke-width:2.93"/>
<path class="k3" d="M2260.3 1468 C2248.1 1473.5 2208.1 1486.3 2187 1501.3 C2165.9 1516.3 2146.4 1538.5 2133.7 1558 C2120.9 1577.4 2112.5 1602.4 2110.3 1618 C2108.1 1633.5 2118.7 1645.8 2120.3 1651.3" style="stroke-width:3.66"/>
<path class="w" d="M2160.4 1664.7 C2159.2 1654.7 2150.3 1624.7 2153.7 1604.7 C2157 1584.7 2166.9 1562.5 2180.3 1544.7 C2193.6 1526.8 2214.8 1507.7 2233.7 1497.7 C2252.6 1487.7 2275.8 1486.8 2293.7 1484.7 C2311.5 1482.5 2332.8 1484.7 2340.7 1484.7 L2575.7 1643.7 L2690.7 1685.7 L2710.7 1723.7 L2565.7 2033.7 L2515.7 1903.7Z"/>
</g><g><use href="#brk" transform="translate(1105.9,298.7) scale(0.1338) translate(-2126,-1357)"/></g>

<!-- 23_A_right.svg -->
<g id="A_right" transform="translate(630,20) scale(0.19108)">
<ellipse class="w" cx="2615.7" cy="1853.7" rx="95" ry="190" transform="rotate(28 2615.7 1853.7)" style="stroke-width:3.66"/>
<path class="k3" d="M2685.7 1683.7 C2670.7 1697 2620.7 1733.7 2595.7 1763.7 C2570.7 1793.7 2547.3 1830.3 2535.7 1863.7 C2524 1897 2523.7 1939.5 2525.7 1963.7 C2527.7 1987.8 2544 2001.2 2547.7 2008.7" style="stroke-width:4.15"/>
<path class="k3" d="M2720.7 1708.7 C2704.8 1724.5 2649.8 1771.2 2625.7 1803.7 C2601.5 1836.2 2581.5 1870.3 2575.7 1903.7 C2569.8 1937 2588.2 1987 2590.7 2003.7" style="stroke-width:3.66"/>
<path class="w1" d="M2570.7 1903.7 L2605.7 1893.7 L2610.7 1933.7 L2575.7 1943.7Z"/>
<path class="w1" d="M2580.7 1963.7 L2615.7 1953.7 L2620.7 2003.7 L2585.7 2003.7Z"/>
<path class="w" d="M2715.7 1743.7 L2765.7 1693.7 L2875.7 1603.7 L2925.7 1583.7 L3025.7 1643.7 L3045.7 1723.7 L2845.7 2145.7 L2655 2134 L2515 2034 L2505 1884 L2625.7 2003.7 L2665.7 1853.7Z"/>
<path class="w" d="M2715.7 1743.7 L2765.7 1693.7 L2875.7 1603.7 L2925.7 1583.7 L3025.7 1643.7 L3005.7 1693.7 L2885.7 1803.7 L2835.7 1853.7 L2720.7 1793.7Z" style="stroke-width:2.93"/>
<path class="k" d="M2720.7 1793.7 L2835.7 1853.7"/>
<path class="k" d="M2725.7 1823.7 L2835.7 1893.7 L2885.7 1843.7"/>
<ellipse class="w" cx="2900.7" cy="1598.7" rx="32" ry="28" style="stroke-width:3.17"/>
<ellipse class="w" cx="2995.7" cy="1643.7" rx="32" ry="28" style="stroke-width:3.17"/>
<ellipse class="w" cx="2755.7" cy="1713.7" rx="32" ry="28" style="stroke-width:3.17"/>
<ellipse class="w" cx="2845.7" cy="1758.7" rx="32" ry="28" style="stroke-width:3.17"/>
<ellipse class="f" cx="2885.7" cy="1668.7" rx="16" ry="20"/>
<path class="k2" d="M2705.7 1853.7 C2699 1872 2672.3 1925.3 2665.7 1963.7 C2659 2002 2659 2053.3 2665.7 2083.7 C2672.3 2114 2699 2135.3 2705.7 2145.7"/>
<path class="k2" d="M2745.7 1873.7 C2739.8 1892 2715.7 1945.3 2710.7 1983.7 C2705.7 2022 2714.8 2083.7 2715.7 2103.7"/>
<ellipse class="f" cx="2635" cy="2164" rx="55" ry="36" transform="rotate(5 2635 2164)"/>
<path class="wk2" d="M2592 2156 C2599.2 2159.7 2620.7 2178 2635 2178 C2649.3 2178 2670.8 2159.7 2678 2156"/>
<ellipse class="f" cx="2635" cy="2229" rx="62" ry="36" transform="rotate(5 2635 2229)"/>
<path class="wk2" d="M2585 2221 C2593.3 2224.7 2618.3 2243 2635 2243 C2651.7 2243 2676.7 2224.7 2685 2221"/>
<ellipse class="f" cx="2635" cy="2294" rx="55" ry="36" transform="rotate(5 2635 2294)"/>
<path class="wk2" d="M2592 2286 C2599.2 2289.7 2620.7 2308 2635 2308 C2649.3 2308 2670.8 2289.7 2678 2286"/>
<ellipse class="w" cx="2640" cy="2114" rx="34" ry="30" style="stroke-width:2.93"/>
<path class="w" d="M2535 2234 L2570 2219 L2580 2284 L2545 2294Z"/>
<path class="w" d="M2655 2099 L2695 2094 L2705 2134 L2670 2146Z"/>
<path class="w" d="M2745.7 1923.7 C2752.4 1916.9 2770.7 1873.7 2795.7 1843.7 C2820.7 1813.7 2857.3 1775.3 2895.7 1743.7 C2934 1712 2980.7 1677 3025.7 1653.7 C3070.7 1630.3 3125.7 1612.8 3165.7 1603.7 C3205.7 1594.5 3226.3 1592 3265.7 1598.7 C3305 1605.3 3370.1 1621.1 3401.7 1643.7 C3433.2 1666.2 3434.4 1693.9 3455 1734 C3475.5 1774 3509.2 1834 3525 1884 C3540.8 1934 3550 1979 3550 2034 C3550 2089 3544.2 2152.3 3525 2214 C3505.8 2275.7 3471.7 2350.7 3435 2404 C3398.3 2457.3 3351.7 2499.8 3305 2534 C3258.3 2568.2 3190 2594.8 3155 2609 C3120 2623.2 3138.3 2623.2 3095 2619 C3051.7 2614.8 2943.3 2599.8 2895 2584 C2846.7 2568.2 2831.7 2550.7 2805 2524 C2778.3 2497.3 2750.8 2464 2735 2424 C2719.2 2384 2713.3 2340.7 2710 2284 C2706.7 2227.3 2707.5 2150.7 2715 2084 C2722.5 2017.3 2749.9 1910.7 2755 1884 C2760.1 1857.3 2738.9 1930.4 2745.7 1923.7Z"/>
<path class="f" d="M3095 2619 C3061.7 2613.2 2943.3 2599.8 2895 2584 C2846.7 2568.2 2831.7 2550.7 2805 2524 C2778.3 2497.3 2750.8 2464 2735 2424 C2719.2 2384 2713.3 2340.7 2710 2284 C2706.7 2227.3 2707.5 2150.7 2715 2084 C2722.5 2017.3 2749.9 1910.7 2755 1884 C2760.1 1857.3 2738.9 1930.4 2745.7 1923.7 C2752.4 1916.9 2770.7 1873.7 2795.7 1843.7 C2820.7 1813.7 2857.3 1775.3 2895.7 1743.7 C2934 1712 2980.7 1677 3025.7 1653.7 C3070.7 1630.3 3125.7 1612.8 3165.7 1603.7 C3205.7 1594.5 3226.3 1592 3265.7 1598.7 C3305 1605.3 3366.8 1622.8 3401.7 1643.7 C3436.5 1664.5 3462.8 1710.6 3475 1724 L3455 1764 C3446.1 1752.6 3429 1715.7 3401.7 1695.7 C3374.3 1675.6 3325.8 1651.5 3290.7 1643.7 C3255.5 1635.8 3227.3 1641.2 3190.7 1648.7 C3154 1656.2 3110.7 1668.7 3070.7 1688.7 C3030.7 1708.7 2987.3 1738.7 2950.7 1768.7 C2914 1798.7 2875.7 1837 2850.7 1868.7 C2825.7 1900.3 2805.8 1956.1 2800.7 1958.7 C2795.5 1961.2 2823.4 1863.1 2820 1884 C2816.5 1904.9 2787.5 2017.3 2780 2084 C2772.5 2150.7 2772.2 2229.8 2775 2284 C2777.8 2338.2 2783.7 2373.2 2797 2409 C2810.3 2444.8 2832 2473.8 2855 2499 C2878 2524.2 2895 2540 2935 2560 C2975 2580 3068.3 2609.2 3095 2619Z"/>
<path class="f" d="M3100 2619 C3083.3 2614.5 3030 2602.5 3000 2592 C2970 2581.5 2945.8 2581.5 2920 2556 C2894.2 2530.5 2861.2 2484.3 2845 2439 C2828.8 2393.7 2824.7 2343.2 2823 2284 C2821.3 2224.8 2823 2150.7 2835 2084 C2847 2017.3 2893.2 1897.4 2895 1884 C2896.8 1870.6 2843.9 2000.4 2845.7 2003.7 C2847.4 2006.9 2880.7 1935.3 2905.7 1903.7 C2930.7 1872 2959 1842 2995.7 1813.7 C3032.3 1785.3 3084 1752.8 3125.7 1733.7 C3167.3 1714.5 3199.7 1700.3 3245.7 1698.7 C3291.7 1697 3358.4 1702.8 3401.7 1723.7 C3444.9 1744.5 3487.8 1807.3 3505 1824 L3530 1894 C3508.6 1874.3 3454 1792.4 3401.7 1775.7 C3349.3 1758.9 3269.2 1779 3215.7 1793.7 C3162.2 1808.3 3120.7 1835.3 3080.7 1863.7 C3040.7 1892 3002.3 1932 2975.7 1963.7 C2949 1995.3 2914.1 2066.9 2920.7 2053.7 C2927.2 2040.4 3006.8 1895.6 3015 1884 C3023.2 1872.4 2985.3 1934 2970 1984 C2954.7 2034 2932.2 2117.3 2923 2184 C2913.8 2250.7 2911 2327.3 2915 2384 C2919 2440.7 2927 2488.2 2947 2524 C2967 2559.8 3009.5 2583.2 3035 2599 C3060.5 2614.8 3089.2 2615.7 3100 2619Z"/>
<rect class="wn" x="3236" y="1762" width="8" height="4" opacity="0.50" transform="rotate(48 3236 1762)"/>
<rect class="wn" x="3258" y="1730" width="10" height="7" opacity="0.50" transform="rotate(23 3258 1730)"/>
<rect class="wn" x="3346" y="1780" width="5" height="6" opacity="0.50" transform="rotate(-20 3346 1780)"/>
<rect class="wn" x="2965" y="2548" width="13" height="6" opacity="0.50" transform="rotate(-3 2965 2548)"/>
<rect class="wn" x="2888" y="2359" width="12" height="3" opacity="0.50" transform="rotate(22 2888 2359)"/>
<rect class="wn" x="2872" y="2250" width="13" height="4" opacity="0.50" transform="rotate(33 2872 2250)"/>
<rect class="wn" x="2943" y="2019" width="10" height="5" opacity="0.50" transform="rotate(57 2943 2019)"/>
<rect class="wn" x="3338" y="1724" width="8" height="5" opacity="0.50" transform="rotate(-21 3338 1724)"/>
<rect class="wn" x="2839" y="2245" width="15" height="4" opacity="0.50" transform="rotate(34 2839 2245)"/>
<rect class="wn" x="2865" y="2246" width="10" height="7" opacity="0.50" transform="rotate(-1 2865 2246)"/>
<rect class="wn" x="3290" y="1737" width="9" height="7" opacity="0.50" transform="rotate(11 3290 1737)"/>
<rect class="wn" x="2879" y="1977" width="11" height="6" opacity="0.50" transform="rotate(-27 2879 1977)"/>
<rect class="wn" x="2843" y="2172" width="7" height="7" opacity="0.50" transform="rotate(-15 2843 2172)"/>
<rect class="wn" x="2875" y="2232" width="11" height="7" opacity="0.50" transform="rotate(16 2875 2232)"/>
<rect class="wn" x="2828" y="2199" width="6" height="5" opacity="0.50" transform="rotate(-16 2828 2199)"/>
<rect class="wn" x="3084" y="1822" width="11" height="7" opacity="0.50" transform="rotate(-34 3084 1822)"/>
<rect class="wn" x="2874" y="2099" width="16" height="4" opacity="0.50" transform="rotate(-21 2874 2099)"/>
<rect class="wn" x="2865" y="2448" width="14" height="7" opacity="0.50" transform="rotate(39 2865 2448)"/>
<rect class="wn" x="2931" y="1963" width="15" height="3" opacity="0.50" transform="rotate(-31 2931 1963)"/>
<rect class="wn" x="2892" y="2460" width="10" height="5" opacity="0.50" transform="rotate(5 2892 2460)"/>
<rect class="wn" x="3193" y="1770" width="8" height="4" opacity="0.50" transform="rotate(24 3193 1770)"/>
<rect class="wn" x="2937" y="2555" width="13" height="7" opacity="0.50" transform="rotate(12 2937 2555)"/>
<rect class="wn" x="3079" y="1774" width="11" height="7" opacity="0.50" transform="rotate(-18 3079 1774)"/>
<rect class="wn" x="2973" y="1868" width="11" height="4" opacity="0.50" transform="rotate(22 2973 1868)"/>
<rect class="wn" x="3160" y="1735" width="12" height="4" opacity="0.50" transform="rotate(-36 3160 1735)"/>
<rect class="wn" x="2921" y="1900" width="7" height="6" opacity="0.50" transform="rotate(-22 2921 1900)"/>
<rect class="wn" x="2962" y="1907" width="16" height="7" opacity="0.50" transform="rotate(57 2962 1907)"/>
<rect class="wn" x="3164" y="1749" width="10" height="4" opacity="0.50" transform="rotate(23 3164 1749)"/>
<rect class="wn" x="3331" y="1763" width="9" height="3" opacity="0.50" transform="rotate(7 3331 1763)"/>
<rect class="wn" x="3147" y="1813" width="8" height="7" opacity="0.50" transform="rotate(2 3147 1813)"/>
<rect class="wn" x="2926" y="2463" width="9" height="3" opacity="0.50" transform="rotate(47 2926 2463)"/>
<rect class="wn" x="3406" y="1754" width="14" height="7" opacity="0.50" transform="rotate(-38 3406 1754)"/>
<rect class="wn" x="3495" y="1829" width="11" height="6" opacity="0.50" transform="rotate(41 3495 1829)"/>
<rect class="wn" x="2910" y="2343" width="8" height="7" opacity="0.50" transform="rotate(-38 2910 2343)"/>
<rect class="wn" x="2883" y="1921" width="14" height="7" opacity="0.50" transform="rotate(-28 2883 1921)"/>
<rect class="wn" x="3230" y="1741" width="11" height="7" opacity="0.50" transform="rotate(21 3230 1741)"/>
<rect class="wn" x="2951" y="2551" width="6" height="5" opacity="0.50" transform="rotate(59 2951 2551)"/>
<rect class="wn" x="3030" y="1804" width="14" height="3" opacity="0.50" transform="rotate(22 3030 1804)"/>
<rect class="wn" x="3041" y="1801" width="15" height="6" opacity="0.50" transform="rotate(-11 3041 1801)"/>
<rect class="wn" x="2857" y="2384" width="11" height="7" opacity="0.50" transform="rotate(48 2857 2384)"/>
<rect class="wn" x="3336" y="1741" width="15" height="5" opacity="0.50" transform="rotate(37 3336 1741)"/>
<rect class="wn" x="3056" y="1870" width="5" height="6" opacity="0.50" transform="rotate(24 3056 1870)"/>
<rect class="wn" x="3513" y="1852" width="11" height="3" opacity="0.50" transform="rotate(40 3513 1852)"/>
<rect class="wn" x="2940" y="2529" width="11" height="5" opacity="0.50" transform="rotate(58 2940 2529)"/>
<rect class="wn" x="2914" y="2054" width="7" height="3" opacity="0.50" transform="rotate(56 2914 2054)"/>
<rect class="wn" x="2888" y="2116" width="12" height="3" opacity="0.50" transform="rotate(-31 2888 2116)"/>
<rect class="wn" x="3063" y="1852" width="10" height="4" opacity="0.50" transform="rotate(24 3063 1852)"/>
<rect class="wn" x="3268" y="1756" width="12" height="3" opacity="0.50" transform="rotate(33 3268 1756)"/>
<rect class="wn" x="3478" y="1829" width="11" height="5" opacity="0.50" transform="rotate(31 3478 1829)"/>
<rect class="wn" x="3199" y="1745" width="6" height="4" opacity="0.50" transform="rotate(-10 3199 1745)"/>
<rect class="wn" x="3501" y="1850" width="16" height="4" opacity="0.50" transform="rotate(-7 3501 1850)"/>
<rect class="wn" x="3177" y="1778" width="14" height="3" opacity="0.50" transform="rotate(-3 3177 1778)"/>
<rect class="wn" x="3221" y="1756" width="13" height="4" opacity="0.50" transform="rotate(49 3221 1756)"/>
<rect class="wn" x="3001" y="2582" width="13" height="6" opacity="0.50" transform="rotate(25 3001 2582)"/>
<rect class="wn" x="2863" y="2323" width="8" height="4" opacity="0.50" transform="rotate(-27 2863 2323)"/>
<rect class="wn" x="2942" y="2063" width="9" height="6" opacity="0.50" transform="rotate(60 2942 2063)"/>
<rect class="wn" x="3061" y="1804" width="11" height="5" opacity="0.50" transform="rotate(30 3061 1804)"/>
<rect class="wn" x="3188" y="1780" width="6" height="6" opacity="0.50" transform="rotate(10 3188 1780)"/>
<rect class="wn" x="3259" y="1751" width="8" height="3" opacity="0.50" transform="rotate(58 3259 1751)"/>
<rect class="wn" x="2957" y="2032" width="9" height="5" opacity="0.50" transform="rotate(47 2957 2032)"/>
<rect class="wn" x="2886" y="1950" width="15" height="3" opacity="0.50" transform="rotate(23 2886 1950)"/>
<rect class="wn" x="2921" y="2201" width="6" height="4" opacity="0.50" transform="rotate(7 2921 2201)"/>
<rect class="wn" x="2968" y="1853" width="16" height="4" opacity="0.50" transform="rotate(-34 2968 1853)"/>
<rect class="wn" x="2901" y="2068" width="6" height="7" opacity="0.50" transform="rotate(-6 2901 2068)"/>
<rect class="wn" x="2848" y="2394" width="8" height="6" opacity="0.50" transform="rotate(9 2848 2394)"/>
<rect class="wn" x="3122" y="1755" width="12" height="5" opacity="0.50" transform="rotate(-37 3122 1755)"/>
<rect class="wn" x="2846" y="2144" width="14" height="6" opacity="0.50" transform="rotate(0 2846 2144)"/>
<rect class="wn" x="3357" y="1773" width="9" height="3" opacity="0.50" transform="rotate(-7 3357 1773)"/>
<rect class="wn" x="2976" y="1843" width="12" height="6" opacity="0.50" transform="rotate(34 2976 1843)"/>
<rect class="wn" x="3471" y="1831" width="9" height="3" opacity="0.50" transform="rotate(-23 3471 1831)"/>
<rect class="wn" x="2915" y="2018" width="11" height="5" opacity="0.50" transform="rotate(-2 2915 2018)"/>
<rect class="wn" x="3064" y="1808" width="13" height="7" opacity="0.50" transform="rotate(14 3064 1808)"/>
<rect class="wn" x="2911" y="2525" width="9" height="4" opacity="0.50" transform="rotate(-1 2911 2525)"/>
<rect class="wn" x="2870" y="2006" width="16" height="5" opacity="0.50" transform="rotate(16 2870 2006)"/>
<rect class="wn" x="3089" y="1768" width="7" height="6" opacity="0.50" transform="rotate(58 3089 1768)"/>
<rect class="wn" x="2963" y="1984" width="14" height="4" opacity="0.50" transform="rotate(26 2963 1984)"/>
<rect class="wn" x="2863" y="1996" width="9" height="7" opacity="0.50" transform="rotate(1 2863 1996)"/>
<rect class="wn" x="3247" y="1717" width="15" height="3" opacity="0.50" transform="rotate(9 3247 1717)"/>
<rect class="wn" x="3037" y="1804" width="7" height="3" opacity="0.50" transform="rotate(-37 3037 1804)"/>
<rect class="wn" x="3262" y="1769" width="5" height="7" opacity="0.50" transform="rotate(-30 3262 1769)"/>
<rect class="wn" x="2864" y="2374" width="16" height="5" opacity="0.50" transform="rotate(-24 2864 2374)"/>
<rect class="wn" x="2914" y="2525" width="15" height="6" opacity="0.50" transform="rotate(-31 2914 2525)"/>
<rect class="wn" x="3247" y="1732" width="8" height="6" opacity="0.50" transform="rotate(-7 3247 1732)"/>
<rect class="wn" x="2895" y="2021" width="8" height="4" opacity="0.50" transform="rotate(53 2895 2021)"/>
<rect class="wn" x="2848" y="2431" width="6" height="6" opacity="0.50" transform="rotate(-30 2848 2431)"/>
<rect class="wn" x="2873" y="2034" width="14" height="7" opacity="0.50" transform="rotate(21 2873 2034)"/>
<rect class="wn" x="3421" y="1777" width="12" height="6" opacity="0.50" transform="rotate(6 3421 1777)"/>
<rect class="wn" x="3013" y="1876" width="15" height="3" opacity="0.50" transform="rotate(-32 3013 1876)"/>
<rect class="wn" x="2921" y="1925" width="7" height="5" opacity="0.50" transform="rotate(7 2921 1925)"/>
<rect class="wn" x="2909" y="1924" width="14" height="3" opacity="0.50" transform="rotate(17 2909 1924)"/>
<rect class="wn" x="2854" y="2280" width="13" height="4" opacity="0.50" transform="rotate(-39 2854 2280)"/>
<rect class="wn" x="2842" y="2397" width="16" height="6" opacity="0.50" transform="rotate(19 2842 2397)"/>
<rect class="wn" x="3032" y="2597" width="10" height="3" opacity="0.50" transform="rotate(25 3032 2597)"/>
<rect class="wn" x="3107" y="1771" width="8" height="3" opacity="0.50" transform="rotate(-39 3107 1771)"/>
<rect class="wn" x="2846" y="2357" width="12" height="7" opacity="0.50" transform="rotate(-1 2846 2357)"/>
<rect class="wn" x="3477" y="1804" width="12" height="6" opacity="0.50" transform="rotate(-29 3477 1804)"/>
<rect class="wn" x="2880" y="2155" width="12" height="3" opacity="0.50" transform="rotate(-6 2880 2155)"/>
<rect class="wn" x="2904" y="2253" width="7" height="3" opacity="0.50" transform="rotate(54 2904 2253)"/>
<rect class="wn" x="2883" y="2007" width="7" height="6" opacity="0.50" transform="rotate(-2 2883 2007)"/>
<rect class="wn" x="2886" y="2213" width="11" height="4" opacity="0.50" transform="rotate(41 2886 2213)"/>
<rect class="wn" x="3065" y="1794" width="5" height="4" opacity="0.50" transform="rotate(-34 3065 1794)"/>
<rect class="wn" x="2840" y="2119" width="10" height="3" opacity="0.50" transform="rotate(-26 2840 2119)"/>
<rect class="wn" x="2867" y="2073" width="10" height="3" opacity="0.50" transform="rotate(55 2867 2073)"/>
<rect class="wn" x="2854" y="2205" width="6" height="5" opacity="0.50" transform="rotate(-31 2854 2205)"/>
<rect class="wn" x="2859" y="2101" width="12" height="7" opacity="0.50" transform="rotate(-19 2859 2101)"/>
<rect class="wn" x="2932" y="2108" width="16" height="7" opacity="0.50" transform="rotate(19 2932 2108)"/>
<rect class="wn" x="2904" y="1950" width="16" height="7" opacity="0.50" transform="rotate(4 2904 1950)"/>
<rect class="wn" x="2944" y="1865" width="16" height="5" opacity="0.50" transform="rotate(-28 2944 1865)"/>
<rect class="wn" x="2859" y="2257" width="5" height="3" opacity="0.50" transform="rotate(7 2859 2257)"/>
<rect class="wn" x="2956" y="2549" width="10" height="4" opacity="0.50" transform="rotate(10 2956 2549)"/>
<rect class="wn" x="2916" y="2072" width="7" height="5" opacity="0.50" transform="rotate(36 2916 2072)"/>
<rect class="wn" x="2914" y="2194" width="14" height="4" opacity="0.50" transform="rotate(-31 2914 2194)"/>
<rect class="wn" x="2875" y="2224" width="15" height="3" opacity="0.50" transform="rotate(-37 2875 2224)"/>
<rect class="wn" x="2928" y="2108" width="6" height="7" opacity="0.50" transform="rotate(26 2928 2108)"/>
<rect class="wn" x="2844" y="2220" width="13" height="5" opacity="0.50" transform="rotate(51 2844 2220)"/>
<rect class="wn" x="2883" y="2365" width="16" height="6" opacity="0.50" transform="rotate(59 2883 2365)"/>
<rect class="wn" x="3221" y="1722" width="7" height="5" opacity="0.50" transform="rotate(11 3221 1722)"/>
<rect class="wn" x="3059" y="1800" width="5" height="5" opacity="0.50" transform="rotate(-9 3059 1800)"/>
<rect class="wn" x="3522" y="1885" width="7" height="3" opacity="0.50" transform="rotate(-32 3522 1885)"/>
<rect class="wn" x="2873" y="2402" width="12" height="7" opacity="0.50" transform="rotate(-16 2873 2402)"/>
<rect class="wn" x="2872" y="2042" width="16" height="5" opacity="0.50" transform="rotate(41 2872 2042)"/>
<rect class="wn" x="2907" y="1904" width="8" height="6" opacity="0.50" transform="rotate(33 2907 1904)"/>
<rect class="wn" x="3082" y="1806" width="6" height="7" opacity="0.50" transform="rotate(34 3082 1806)"/>
<rect class="wn" x="2999" y="1860" width="16" height="6" opacity="0.50" transform="rotate(-6 2999 1860)"/>
<rect class="wn" x="2838" y="2263" width="12" height="7" opacity="0.50" transform="rotate(12 2838 2263)"/>
<rect class="wn" x="3013" y="1910" width="10" height="4" opacity="0.50" transform="rotate(-23 3013 1910)"/>
<rect class="wn" x="2876" y="1973" width="10" height="5" opacity="0.50" transform="rotate(51 2876 1973)"/>
<rect class="wn" x="2896" y="1949" width="6" height="3" opacity="0.50" transform="rotate(21 2896 1949)"/>
<rect class="wn" x="3029" y="1892" width="13" height="3" opacity="0.50" transform="rotate(29 3029 1892)"/>
<rect class="wn" x="2913" y="2538" width="9" height="3" opacity="0.50" transform="rotate(56 2913 2538)"/>
<rect class="wn" x="3126" y="1826" width="5" height="7" opacity="0.50" transform="rotate(-27 3126 1826)"/>
<rect class="wn" x="3164" y="1739" width="8" height="4" opacity="0.50" transform="rotate(-6 3164 1739)"/>
<rect class="wn" x="2935" y="2008" width="8" height="5" opacity="0.50" transform="rotate(-5 2935 2008)"/>
<rect class="wn" x="3140" y="1807" width="6" height="7" opacity="0.50" transform="rotate(-22 3140 1807)"/>
<rect class="wn" x="2842" y="2095" width="5" height="6" opacity="0.50" transform="rotate(52 2842 2095)"/>
<rect class="wn" x="2837" y="2215" width="15" height="7" opacity="0.50" transform="rotate(34 2837 2215)"/>
<rect class="wn" x="3092" y="1763" width="7" height="5" opacity="0.50" transform="rotate(-31 3092 1763)"/>
<rect class="wn" x="2881" y="2278" width="6" height="6" opacity="0.50" transform="rotate(36 2881 2278)"/>
<rect class="wn" x="3152" y="1801" width="12" height="5" opacity="0.50" transform="rotate(-11 3152 1801)"/>
<rect class="wn" x="2855" y="2232" width="5" height="3" opacity="0.50" transform="rotate(48 2855 2232)"/>
<rect class="wn" x="2881" y="2426" width="13" height="7" opacity="0.50" transform="rotate(-6 2881 2426)"/>
<rect class="wn" x="3124" y="1840" width="13" height="6" opacity="0.50" transform="rotate(26 3124 1840)"/>
<rect class="wn" x="2831" y="2238" width="13" height="7" opacity="0.50" transform="rotate(-21 2831 2238)"/>
<rect class="wn" x="2892" y="2216" width="8" height="6" opacity="0.50" transform="rotate(55 2892 2216)"/>
<rect class="wn" x="3151" y="1727" width="6" height="7" opacity="0.50" transform="rotate(30 3151 1727)"/>
<rect class="wn" x="3264" y="1768" width="15" height="4" opacity="0.50" transform="rotate(53 3264 1768)"/>
<rect class="wn" x="2857" y="2277" width="7" height="6" opacity="0.50" transform="rotate(6 2857 2277)"/>
<rect class="wn" x="2894" y="2271" width="13" height="5" opacity="0.50" transform="rotate(-36 2894 2271)"/>
<rect class="wn" x="2947" y="2057" width="15" height="4" opacity="0.50" transform="rotate(-15 2947 2057)"/>
<rect class="wn" x="2887" y="2449" width="11" height="6" opacity="0.50" transform="rotate(38 2887 2449)"/>
<path class="k" d="M3015 1884 C3007.5 1900.7 2985.3 1934 2970 1984 C2954.7 2034 2932.2 2117.3 2923 2184 C2913.8 2250.7 2911 2327.3 2915 2384 C2919 2440.7 2927 2488.2 2947 2524 C2967 2559.8 3000.3 2584.8 3035 2599 C3069.7 2613.2 3110 2619.8 3155 2609 C3200 2598.2 3258.3 2568.2 3305 2534 C3351.7 2499.8 3398.3 2457.3 3435 2404 C3471.7 2350.7 3505.8 2275.7 3525 2214 C3544.2 2152.3 3550 2089 3550 2034 C3550 1979 3529.2 1909 3525 1884"/>
<path class="k" d="M2975.7 2145.7 C2987.3 2122 3017.3 2044 3045.7 2003.7 C3074 1963.3 3112.3 1928.7 3145.7 1903.7 C3179 1878.7 3203 1865.3 3245.7 1853.7 C3288.3 1842 3355.1 1828.6 3401.7 1833.7 C3448.2 1838.7 3504.4 1875.6 3525 1884"/>
<ellipse class="w" cx="3235" cy="2184" rx="200" ry="280" transform="rotate(25 3235 2184)"/>
<ellipse class="f" cx="3345" cy="1994" rx="20" ry="28" transform="rotate(25 3345 1994)"/>
<ellipse class="f" cx="3120" cy="2109" rx="20" ry="28" transform="rotate(25 3120 2109)"/>
<ellipse class="f" cx="3080" cy="2334" rx="20" ry="28" transform="rotate(25 3080 2334)"/>
<ellipse class="f" cx="3240" cy="2014" rx="42" ry="30" transform="rotate(20 3240 2014)"/>
<ellipse class="wn" cx="3268" cy="2024" rx="14" ry="20" transform="rotate(20 3268 2024)"/>
<path class="wk" d="M3215 1992 L3210 2032" style="stroke-width:0.80"/>
<path class="wk" d="M3229 1995 L3224 2035" style="stroke-width:0.80"/>
<path class="wk" d="M3243 1998 L3238 2038" style="stroke-width:0.80"/>
<ellipse class="f" cx="3095" cy="2244" rx="42" ry="30" transform="rotate(20 3095 2244)"/>
<ellipse class="wn" cx="3123" cy="2254" rx="14" ry="20" transform="rotate(20 3123 2254)"/>
<path class="wk" d="M3070 2222 L3065 2262" style="stroke-width:0.80"/>
<path class="wk" d="M3084 2225 L3079 2265" style="stroke-width:0.80"/>
<path class="wk" d="M3098 2228 L3093 2268" style="stroke-width:0.80"/>
<ellipse class="f" cx="3150" cy="2399" rx="42" ry="30" transform="rotate(20 3150 2399)"/>
<ellipse class="wn" cx="3178" cy="2409" rx="14" ry="20" transform="rotate(20 3178 2409)"/>
<path class="wk" d="M3125 2377 L3120 2417" style="stroke-width:0.80"/>
<path class="wk" d="M3139 2380 L3134 2420" style="stroke-width:0.80"/>
<path class="wk" d="M3153 2383 L3148 2423" style="stroke-width:0.80"/>
<path class="f" d="M3105 2214 C3103.3 2174 3120 2122.3 3145 2094 C3170 2065.7 3220 2047.3 3255 2044 C3290 2040.7 3328.3 2065.7 3355 2074 C3381.7 2082.3 3431.7 2070.7 3415 2094 C3398.3 2117.3 3290 2169 3255 2214 C3220 2259 3221.7 2344 3205 2364 C3188.3 2384 3171.7 2359 3155 2334 C3138.3 2309 3106.7 2254 3105 2214Z"/>
<rect class="wn" x="3306" y="2154" width="6" height="4" opacity="0.50" transform="rotate(-6 3306 2154)"/>
<rect class="wn" x="3201" y="2104" width="6" height="7" opacity="0.50" transform="rotate(27 3201 2104)"/>
<rect class="wn" x="3185" y="2350" width="9" height="7" opacity="0.50" transform="rotate(-22 3185 2350)"/>
<rect class="wn" x="3191" y="2130" width="7" height="6" opacity="0.50" transform="rotate(-34 3191 2130)"/>
<rect class="wn" x="3211" y="2332" width="11" height="5" opacity="0.50" transform="rotate(24 3211 2332)"/>
<rect class="wn" x="3193" y="2326" width="11" height="4" opacity="0.50" transform="rotate(-1 3193 2326)"/>
<rect class="wn" x="3279" y="2171" width="5" height="5" opacity="0.50" transform="rotate(33 3279 2171)"/>
<rect class="wn" x="3239" y="2259" width="11" height="3" opacity="0.50" transform="rotate(-29 3239 2259)"/>
<rect class="wn" x="3238" y="2172" width="8" height="7" opacity="0.50" transform="rotate(-10 3238 2172)"/>
<rect class="wn" x="3229" y="2074" width="8" height="4" opacity="0.50" transform="rotate(-37 3229 2074)"/>
<rect class="wn" x="3274" y="2155" width="10" height="5" opacity="0.50" transform="rotate(40 3274 2155)"/>
<rect class="wn" x="3305" y="2108" width="6" height="3" opacity="0.50" transform="rotate(-16 3305 2108)"/>
<rect class="wn" x="3304" y="2157" width="6" height="7" opacity="0.50" transform="rotate(-7 3304 2157)"/>
<rect class="wn" x="3210" y="2098" width="11" height="5" opacity="0.50" transform="rotate(-18 3210 2098)"/>
<rect class="wn" x="3214" y="2081" width="8" height="7" opacity="0.50" transform="rotate(-8 3214 2081)"/>
<rect class="wn" x="3255" y="2065" width="5" height="5" opacity="0.50" transform="rotate(56 3255 2065)"/>
<rect class="wn" x="3135" y="2194" width="8" height="6" opacity="0.50" transform="rotate(4 3135 2194)"/>
<rect class="wn" x="3267" y="2101" width="8" height="6" opacity="0.50" transform="rotate(39 3267 2101)"/>
<rect class="wn" x="3256" y="2166" width="11" height="6" opacity="0.50" transform="rotate(-8 3256 2166)"/>
<rect class="wn" x="3182" y="2117" width="9" height="3" opacity="0.50" transform="rotate(45 3182 2117)"/>
<rect class="wn" x="3280" y="2101" width="10" height="3" opacity="0.50" transform="rotate(-37 3280 2101)"/>
<rect class="wn" x="3118" y="2199" width="5" height="5" opacity="0.50" transform="rotate(58 3118 2199)"/>
<rect class="wn" x="3343" y="2112" width="12" height="4" opacity="0.50" transform="rotate(16 3343 2112)"/>
<rect class="wn" x="3270" y="2088" width="10" height="5" opacity="0.50" transform="rotate(48 3270 2088)"/>
<rect class="wn" x="3303" y="2100" width="10" height="5" opacity="0.50" transform="rotate(25 3303 2100)"/>
<rect class="wn" x="3186" y="2126" width="7" height="5" opacity="0.50" transform="rotate(25 3186 2126)"/>
<rect class="wn" x="3258" y="2203" width="7" height="7" opacity="0.50" transform="rotate(-16 3258 2203)"/>
<rect class="wn" x="3259" y="2153" width="6" height="6" opacity="0.50" transform="rotate(45 3259 2153)"/>
<rect class="wn" x="3308" y="2106" width="7" height="3" opacity="0.50" transform="rotate(-34 3308 2106)"/>
<rect class="wn" x="3121" y="2211" width="7" height="4" opacity="0.50" transform="rotate(31 3121 2211)"/>
<path class="w" d="M3205 2284 C3210 2244 3230 2164.8 3255 2134 C3280 2103.2 3323.3 2097.3 3355 2099 C3386.7 2100.7 3435 2113.2 3445 2144 C3455 2174.8 3438.3 2242.3 3415 2284 C3391.7 2325.7 3336.7 2379 3305 2394 C3273.3 2409 3241.7 2392.3 3225 2374 C3208.3 2355.7 3200 2324 3205 2284Z"/>
<path class="f" d="M3270 2264 C3270 2234 3295.8 2192.3 3315 2174 C3334.2 2155.7 3356.7 2147.3 3385 2154 C3413.3 2160.7 3481.7 2179 3485 2214 C3488.3 2249 3433.3 2340.7 3405 2364 C3376.7 2387.3 3337.5 2370.7 3315 2354 C3292.5 2337.3 3270 2294 3270 2264Z"/>
<rect class="wn" x="3397" y="2242" width="10" height="4" opacity="0.50" transform="rotate(52 3397 2242)"/>
<rect class="wn" x="3311" y="2247" width="8" height="7" opacity="0.50" transform="rotate(18 3311 2247)"/>
<rect class="wn" x="3362" y="2315" width="8" height="3" opacity="0.50" transform="rotate(35 3362 2315)"/>
<rect class="wn" x="3349" y="2190" width="8" height="5" opacity="0.50" transform="rotate(32 3349 2190)"/>
<rect class="wn" x="3433" y="2231" width="9" height="5" opacity="0.50" transform="rotate(33 3433 2231)"/>
<rect class="wn" x="3288" y="2253" width="12" height="7" opacity="0.50" transform="rotate(17 3288 2253)"/>
<rect class="wn" x="3415" y="2188" width="7" height="7" opacity="0.50" transform="rotate(1 3415 2188)"/>
<rect class="wn" x="3414" y="2263" width="6" height="3" opacity="0.50" transform="rotate(-28 3414 2263)"/>
<rect class="wn" x="3361" y="2273" width="9" height="7" opacity="0.50" transform="rotate(2 3361 2273)"/>
<rect class="wn" x="3386" y="2341" width="12" height="7" opacity="0.50" transform="rotate(-13 3386 2341)"/>
<rect class="wn" x="3325" y="2176" width="6" height="6" opacity="0.50" transform="rotate(-10 3325 2176)"/>
<rect class="wn" x="3340" y="2183" width="6" height="6" opacity="0.50" transform="rotate(-19 3340 2183)"/>
<rect class="wn" x="3366" y="2161" width="11" height="6" opacity="0.50" transform="rotate(-38 3366 2161)"/>
<rect class="wn" x="3304" y="2201" width="5" height="4" opacity="0.50" transform="rotate(54 3304 2201)"/>
<rect class="wn" x="3351" y="2194" width="6" height="5" opacity="0.50" transform="rotate(19 3351 2194)"/>
<rect class="wn" x="3387" y="2312" width="12" height="5" opacity="0.50" transform="rotate(-13 3387 2312)"/>
<rect class="wn" x="3289" y="2270" width="7" height="7" opacity="0.50" transform="rotate(31 3289 2270)"/>
<rect class="wn" x="3444" y="2207" width="11" height="4" opacity="0.50" transform="rotate(-39 3444 2207)"/>
<rect class="wn" x="3365" y="2225" width="11" height="4" opacity="0.50" transform="rotate(38 3365 2225)"/>
<rect class="wn" x="3417" y="2240" width="8" height="7" opacity="0.50" transform="rotate(-3 3417 2240)"/>
<path class="w" d="M3355 2324 C3355 2297.3 3376.7 2252.3 3395 2234 C3413.3 2215.7 3446.7 2212.3 3465 2214 C3483.3 2215.7 3506.7 2215.7 3505 2244 C3503.3 2272.3 3473.3 2359 3455 2384 C3436.7 2409 3411.7 2404 3395 2394 C3378.3 2384 3355 2350.7 3355 2324Z"/>
<path class="w" d="M3400 2334 L3425 2264 L3515 2234 L3565 2314 L3520 2414 L3435 2434Z" style="stroke-width:3.17"/>
<path class="k3" d="M3400 2334 L3425 2264 L3515 2234" style="stroke-width:3.66"/>
<path class="k" d="M3425 2264 L3455 2344 L3435 2434"/>
<path class="k" d="M3455 2344 L3565 2314"/>
</g>

<!-- 30_partD_tube.svg -->
<g id="D_tube" transform="translate(30,395) scale(0.12739)">
<!-- end flange back -->
<path class="w" d="M370 100 C450 92 522 160 510 250 L345 600 C320 628 270 640 240 630 C150 600 100 500 110 400 C125 260 250 110 370 100Z"/>
<path class="f" d="M370 100 C250 110 125 260 110 400 C100 500 150 600 240 630 L262 618 C190 585 148 500 158 400 C170 280 275 150 385 122Z"/>
<!-- tube small -->
<path class="w" d="M440 205 L720 350 L720 800 L660 790 L250 592 C196 520 200 420 250 320 C300 235 375 180 440 205Z"/>
<path class="k1" d="M445 165 C370 170 285 250 240 340 C200 430 195 530 240 600"/>
<path class="k" d="M440 205 C375 185 300 240 255 325 C212 420 208 520 250 592"/>
<ellipse class="f" cx="436" cy="178" rx="16" ry="12"/>
<ellipse class="f" cx="215" cy="322" rx="13" ry="18"/>
<ellipse class="f" cx="228" cy="580" rx="10" ry="14"/>
<!-- sleeve -->
<path class="w" d="M900 445 C800 470 700 600 670 760 C655 820 690 850 725 855 L1100 1090 L1400 650 Z"/>
<ellipse class="f" cx="878" cy="517" rx="32" ry="21"/>
<!-- bracket left block -->
<path class="w" d="M430 520 L565 428 L700 500 L700 540 L560 625 L430 562Z"/>
<path class="k" d="M430 520 L552 585 L700 500 M552 585 L556 622"/>
<path class="f" d="M498 492 L585 440 L665 488 L572 540Z"/>
<!-- middle plate -->
<path class="w" d="M605 442 L700 385 L815 448 L722 505Z"/>
<ellipse class="f" cx="706" cy="457" rx="32" ry="22"/>
<!-- right block -->
<path class="w" d="M700 332 L825 255 L965 325 L978 390 L950 440 L840 445 L700 372Z"/>
<path class="f" d="M722 345 L822 288 L905 330 L835 382 L832 432 L738 385Z"/>
<path class="wk2" d="M760 395 L820 305 M800 400 L850 330"/>
<path class="k" d="M835 382 L955 325 M835 382 L838 440"/>
</g>

<!-- 31_partD_cover.svg -->
<g id="D_cover" transform="translate(140,425) scale(0.12739)">
<path class="f" d="M80 785 C96.7 763.3 143.3 706.5 180 655 C216.7 603.5 260 530.8 300 476 C340 421.2 376.7 372.7 420 326 C463.3 279.3 513.3 232.7 560 196 C606.7 159.3 658.3 124.3 700 106 C741.7 87.7 768.3 86 810 86 C851.7 86 908 91 950 106 C992 121 1031.3 143.7 1062 176 C1092.7 208.3 1117 249.3 1134 300 C1151 350.7 1160.7 421.7 1164 480 C1167.3 538.3 1157.7 605.7 1154 650 C1150.3 694.3 1151 696 1142 746 C1133 796 1120.3 891 1100 950 C1079.7 1009 1048.3 1055.3 1020 1100 C991.7 1144.7 956.7 1183.3 930 1218 C903.3 1252.7 898.3 1269.7 860 1308 C821.7 1346.3 750 1411 700 1448 C650 1485 603.3 1510.5 560 1530 C516.7 1549.5 486.7 1566.7 440 1565 C393.3 1563.3 330 1541.7 280 1520 C230 1498.3 173.3 1464.2 140 1435 C106.7 1405.8 90 1360 80 1345Z"/>
<path class="wn" d="M125.7 796.3 C141.5 775.5 185.6 720.8 220.2 671.3 C254.9 621.7 295.8 551.8 333.6 499.1 C371.4 446.3 406.1 399.7 447 354.8 C487.9 309.9 535.2 265 579.3 229.7 C623.4 194.4 672.2 160.8 711.6 143.1 C751 125.5 776.2 123.9 815.5 123.9 C854.9 123.9 908.2 128.7 947.8 143.1 C987.5 157.6 1024.7 179.4 1053.7 210.5 C1082.7 241.6 1105.7 281 1121.7 329.8 C1137.8 378.5 1146.9 446.8 1150.1 502.9 C1153.2 559 1144.1 623.8 1140.6 666.5 C1137.2 709.1 1137.8 710.7 1129.3 758.8 C1120.8 806.9 1108.8 898.3 1089.6 955.1 C1070.4 1011.8 1040.8 1056.4 1014 1099.4 C987.2 1142.3 954.2 1179.5 929 1212.9 C903.8 1246.2 899 1262.6 862.8 1299.5 C826.6 1336.3 758.9 1398.5 711.6 1434.1 C664.4 1469.7 620.2 1494.3 579.3 1513 C538.3 1531.8 510 1548.3 465.9 1546.7 C421.8 1545.1 361.9 1524.2 314.7 1503.4 C267.4 1482.6 213.9 1449.7 182.4 1421.6 C150.9 1393.6 135.2 1349.5 125.7 1335Z"/>
<path class="k3" d="M820 265 C856.7 260.8 870 262.5 900 275 C930 287.5 973.3 312.5 1000 340 C1026.7 367.5 1047 403.3 1060 440 C1073 476.7 1074.7 516.7 1078 560 C1081.3 603.3 1083 651.7 1080 700 C1077 748.3 1076.7 795 1060 850 C1043.3 905 1013.3 974 980 1030 C946.7 1086 896.7 1143.3 860 1186 C823.3 1228.7 800 1252.7 760 1286 C720 1319.3 666.7 1361 620 1386 C573.3 1411 526.7 1432.7 480 1436 C433.3 1439.3 380.8 1427.7 340 1406 C299.2 1384.3 260.3 1349.3 235 1306 C209.7 1262.7 194.7 1203.7 188 1146 C181.3 1088.3 184.7 1021 195 960 C205.3 899 230.8 826.7 250 780 C269.2 733.3 286.7 715 310 680 C333.3 645 355 613.3 390 570 C425 526.7 471.7 465 520 420 C568.3 375 630 325.8 680 300 C730 274.2 783.3 269.2 820 265Z" style="stroke-width:4.39"/>
<path class="f" d="M820 340 C853.3 338.3 873.3 336.7 900 350 C926.7 363.3 961.3 391.7 980 420 C998.7 448.3 1005 473.3 1012 520 C1019 566.7 1024 643.3 1022 700 C1020 756.7 1015.3 810 1000 860 C984.7 910 963.3 952.3 930 1000 C896.7 1047.7 841.7 1101.7 800 1146 C758.3 1190.3 723.3 1232.7 680 1266 C636.7 1299.3 583.3 1329.3 540 1346 C496.7 1362.7 460 1376 420 1366 C380 1356 329.2 1322.7 300 1286 C270.8 1249.3 253.3 1202.7 245 1146 C236.7 1089.3 240.8 1012.7 250 946 C259.2 879.3 275 803.7 300 746 C325 688.3 366.7 642.7 400 600 C433.3 557.3 466.7 521.7 500 490 C533.3 458.3 566.7 431.7 600 410 C633.3 388.3 663.3 371.7 700 360 C736.7 348.3 786.7 341.7 820 340Z"/>
<path class="wk" d="M1040 470 C1041.3 491.7 1048 551.7 1048 600 C1048 648.3 1041.3 733.3 1040 760"/>
<ellipse class="f" cx="550" cy="740" rx="150" ry="225" transform="rotate(25 550 740)"/>
<ellipse class="wk2" cx="552" cy="738" rx="150" ry="222" transform="rotate(25 552 738)" style="stroke-width:5.12"/>
<ellipse class="wk" cx="505" cy="748" rx="95" ry="150" transform="rotate(25 505 748)" style="stroke-width:1.60"/>
<path class="wk2" d="M665 508 L990 488"/>
<path class="wk" d="M722 590 L992 522"/>
<path class="wk" d="M598 482 L642 420"/>
<path class="wk" d="M400 960.8 L530 1335.8"/>
<path class="wk" d="M375 980.8 L485 1345.8"/>
<path class="wk" d="M285 1000.8 L468 1357.8"/>
<path class="wk" d="M285 1000.8 L300 895.8"/>
<path class="wk2" d="M690 840.8 L775 895.8"/>
<path class="wk" d="M665 885.8 L745 930.8"/>
<path class="wk2" d="M550 1335.8 L800 1150.8"/>
<path class="wk" d="M1015 520 L1010 760"/>
<rect class="wn" x="546" y="1155" width="10" height="8" opacity="0.55"/>
<rect class="wn" x="612" y="1167" width="14" height="4" opacity="0.55"/>
<rect class="wn" x="734" y="1130" width="13" height="5" opacity="0.55"/>
<rect class="wn" x="533" y="1212" width="13" height="8" opacity="0.55"/>
<rect class="wn" x="613" y="1186" width="7" height="5" opacity="0.55"/>
<rect class="wn" x="657" y="1262" width="13" height="7" opacity="0.55"/>
<rect class="wn" x="687" y="1197" width="6" height="5" opacity="0.55"/>
<rect class="wn" x="692" y="1170" width="9" height="4" opacity="0.55"/>
<rect class="wn" x="710" y="1064" width="14" height="9" opacity="0.55"/>
<rect class="wn" x="737" y="1103" width="11" height="7" opacity="0.55"/>
<rect class="wn" x="683" y="1166" width="7" height="6" opacity="0.55"/>
<rect class="wn" x="507" y="1020" width="8" height="6" opacity="0.55"/>
<rect class="wn" x="655" y="1075" width="13" height="7" opacity="0.55"/>
<rect class="wn" x="640" y="1152" width="11" height="8" opacity="0.55"/>
<rect class="wn" x="545" y="1086" width="5" height="6" opacity="0.55"/>
<rect class="wn" x="525" y="1259" width="13" height="8" opacity="0.55"/>
<rect class="wn" x="639" y="1211" width="8" height="9" opacity="0.55"/>
<rect class="wn" x="712" y="1165" width="9" height="4" opacity="0.55"/>
<rect class="wn" x="497" y="1257" width="12" height="4" opacity="0.55"/>
<rect class="wn" x="576" y="997" width="7" height="4" opacity="0.55"/>
<rect class="wn" x="562" y="1229" width="6" height="4" opacity="0.55"/>
<rect class="wn" x="649" y="1227" width="11" height="9" opacity="0.55"/>
<rect class="wn" x="644" y="1157" width="9" height="8" opacity="0.55"/>
<rect class="wn" x="546" y="987" width="5" height="4" opacity="0.55"/>
<rect class="wn" x="510" y="1152" width="8" height="7" opacity="0.55"/>
<rect class="wn" x="561" y="1062" width="5" height="6" opacity="0.55"/>
<rect class="wn" x="567" y="1292" width="11" height="7" opacity="0.55"/>
<rect class="wn" x="608" y="1147" width="14" height="9" opacity="0.55"/>
<rect class="wn" x="636" y="1180" width="13" height="6" opacity="0.55"/>
<rect class="wn" x="600" y="1213" width="8" height="6" opacity="0.55"/>
<rect class="wn" x="602" y="1060" width="9" height="8" opacity="0.55"/>
<rect class="wn" x="574" y="1235" width="14" height="6" opacity="0.55"/>
<rect class="wn" x="485" y="1178" width="7" height="4" opacity="0.55"/>
<rect class="wn" x="657" y="1085" width="10" height="9" opacity="0.55"/>
<rect class="wn" x="736" y="1176" width="9" height="9" opacity="0.55"/>
<rect class="wn" x="617" y="1170" width="5" height="6" opacity="0.55"/>
<rect class="wn" x="550" y="1126" width="14" height="8" opacity="0.55"/>
<rect class="wn" x="569" y="1095" width="10" height="6" opacity="0.55"/>
<rect class="wn" x="716" y="1062" width="11" height="4" opacity="0.55"/>
<rect class="wn" x="639" y="1218" width="9" height="8" opacity="0.55"/>
<rect class="wn" x="542" y="1241" width="8" height="6" opacity="0.55"/>
<rect class="wn" x="532" y="1119" width="6" height="4" opacity="0.55"/>
<rect class="wn" x="648" y="1288" width="8" height="7" opacity="0.55"/>
<rect class="wn" x="502" y="1220" width="8" height="8" opacity="0.55"/>
<rect class="wn" x="606" y="1050" width="6" height="4" opacity="0.55"/>
<rect class="wn" x="628" y="1038" width="14" height="5" opacity="0.55"/>
<rect class="wn" x="721" y="1087" width="6" height="8" opacity="0.55"/>
<rect class="wn" x="576" y="1018" width="9" height="8" opacity="0.55"/>
<rect class="wn" x="702" y="1065" width="10" height="9" opacity="0.55"/>
<rect class="wn" x="596" y="1114" width="11" height="4" opacity="0.55"/>
<rect class="wn" x="601" y="1289" width="8" height="4" opacity="0.55"/>
<rect class="wn" x="688" y="1251" width="13" height="6" opacity="0.55"/>
<rect class="wn" x="632" y="1269" width="6" height="8" opacity="0.55"/>
<rect class="wn" x="992" y="425" width="5" height="4" opacity="0.4"/>
<rect class="wn" x="749" y="685" width="8" height="5" opacity="0.4"/>
<rect class="wn" x="973" y="721" width="8" height="4" opacity="0.4"/>
<rect class="wn" x="743" y="663" width="5" height="8" opacity="0.4"/>
<rect class="wn" x="817" y="631" width="8" height="8" opacity="0.4"/>
<rect class="wn" x="847" y="736" width="8" height="4" opacity="0.4"/>
<rect class="wn" x="828" y="475" width="10" height="8" opacity="0.4"/>
<rect class="wn" x="864" y="677" width="6" height="5" opacity="0.4"/>
<rect class="wn" x="791" y="583" width="10" height="4" opacity="0.4"/>
<rect class="wn" x="784" y="680" width="10" height="5" opacity="0.4"/>
<rect class="wn" x="954" y="382" width="9" height="8" opacity="0.4"/>
<rect class="wn" x="964" y="398" width="6" height="5" opacity="0.4"/>
<rect class="wn" x="809" y="580" width="7" height="4" opacity="0.4"/>
<rect class="wn" x="862" y="675" width="4" height="4" opacity="0.4"/>
<rect class="wn" x="941" y="397" width="4" height="4" opacity="0.4"/>
<rect class="wn" x="865" y="392" width="9" height="4" opacity="0.4"/>
<rect class="wn" x="874" y="566" width="5" height="6" opacity="0.4"/>
<rect class="wn" x="758" y="526" width="7" height="8" opacity="0.4"/>
<rect class="wn" x="819" y="480" width="6" height="7" opacity="0.4"/>
<rect class="wn" x="772" y="591" width="9" height="9" opacity="0.4"/>
<rect class="wn" x="838" y="410" width="5" height="4" opacity="0.4"/>
<rect class="wn" x="837" y="609" width="10" height="8" opacity="0.4"/>
<rect class="wn" x="838" y="684" width="8" height="7" opacity="0.4"/>
<rect class="wn" x="753" y="618" width="10" height="9" opacity="0.4"/>
<rect class="wn" x="821" y="741" width="7" height="7" opacity="0.4"/>
<rect class="wn" x="744" y="463" width="6" height="9" opacity="0.4"/>
<rect class="wn" x="893" y="685" width="5" height="7" opacity="0.4"/>
<rect class="wn" x="773" y="390" width="6" height="6" opacity="0.4"/>
<rect class="wn" x="991" y="592" width="10" height="6" opacity="0.4"/>
<rect class="wn" x="771" y="642" width="10" height="9" opacity="0.4"/>
<ellipse class="f" cx="850" cy="195" rx="19" ry="30" transform="rotate(20 850 195)"/>
<ellipse class="f" cx="445" cy="405" rx="19" ry="30" transform="rotate(30 445 405)"/>
<ellipse class="f" cx="1105" cy="460" rx="19" ry="30" transform="rotate(30 1105 460)"/>
<ellipse class="f" cx="175" cy="800" rx="19" ry="30" transform="rotate(25 175 800)"/>
<ellipse class="f" cx="165" cy="1361" rx="19" ry="30" transform="rotate(25 165 1361)"/>
<ellipse class="f" cx="525" cy="1461" rx="19" ry="30" transform="rotate(40 525 1461)"/>
<ellipse class="f" cx="810" cy="1276" rx="19" ry="30" transform="rotate(40 810 1276)"/>
<ellipse class="f" cx="945" cy="990.8" rx="185" ry="228" transform="rotate(32 945 990.8)"/>
<ellipse class="wk" cx="945" cy="990.8" rx="178" ry="222" transform="rotate(32 945 990.8)"/>
<path class="wk2" d="M835 805.8 L897 787.8" style="stroke-width:3.17"/>
<path class="wk2" d="M800 865.8 L862 854.8" style="stroke-width:3.17"/>
<path class="wk2" d="M775 930.8 L837 926.8" style="stroke-width:3.17"/>
<path class="wk2" d="M765 995.8 L827 998.8" style="stroke-width:3.17"/>
<path class="wk2" d="M770 1060.8 L832 1070.8" style="stroke-width:3.17"/>
<path class="wk2" d="M790 1115.8 L852 1132.8" style="stroke-width:3.17"/>
<path class="wk2" d="M830 1155.8 L892 1179.8" style="stroke-width:3.17"/>
<ellipse class="wn" cx="900" cy="1165.8" rx="14" ry="10"/>
<ellipse class="wn" cx="960" cy="1160.8" rx="14" ry="10"/>
<ellipse class="wn" cx="1020" cy="1130.8" rx="14" ry="10"/>
<ellipse class="wn" cx="1070" cy="1075.8" rx="14" ry="10"/>
<ellipse class="wn" cx="1095" cy="1005.8" rx="14" ry="10"/>
<ellipse class="wn" cx="1100" cy="925.8" rx="14" ry="10"/>
<ellipse class="wn" cx="1085" cy="855.8" rx="14" ry="10"/>
<ellipse class="f" cx="975" cy="995.8" rx="120" ry="160" transform="rotate(32 975 995.8)"/>
<ellipse class="wk" cx="975" cy="995.8" rx="108" ry="150" transform="rotate(32 975 995.8)" style="stroke-width:1.80"/>
<ellipse class="wn" cx="985" cy="995.8" rx="62" ry="100" transform="rotate(32 985 995.8)"/>
<path class="k1" d="M1010 915.8 C1016.7 919.1 1044.2 920.8 1050 935.8 C1055.8 950.8 1045.8 994.1 1045 1005.8"/>
</g>

<!-- 32_gasket.svg -->
<g id="gasket" transform="translate(250,490) scale(0.12739)">
<path class="f" d="M850 100 C897.5 98 956.7 108.3 1000 130 C1043.3 151.7 1081.7 188.3 1110 230 C1138.3 271.7 1157.2 325 1170 380 C1182.8 435 1186.7 496.7 1187 560 C1187.3 623.3 1179 710.7 1172 760 C1165 809.3 1157 816.5 1145 855.8 C1133 895 1124.2 944.1 1100 995.8 C1075.8 1047.4 1040 1110.8 1000 1165.8 C960 1220.8 910 1275.8 860 1325.8 C810 1375.8 750 1429.1 700 1465.8 C650 1502.4 606.7 1527.1 560 1545.8 C513.3 1564.4 463.3 1576.9 420 1577.8 C376.7 1578.6 340 1571.9 300 1550.8 C260 1529.6 213.3 1490.8 180 1450.8 C146.7 1410.8 113.7 1378.2 100 1310.8 C86.3 1243.2 95 1123.2 98 1045.8 C101 968.2 96.8 918.4 118 845.8 C139.2 773.1 182.2 683.5 225 610 C267.8 536.5 320 466.2 375 405 C430 343.8 498.3 286.8 555 243 C611.7 199.2 665.8 165.8 715 142 C764.2 118.2 802.5 102 850 100Z"/>
<path class="wn" d="M851 125.5 C896.7 123.5 953.6 133.6 995.3 154.8 C1037 175.9 1073.9 211.6 1101.1 252.2 C1128.4 292.9 1146.5 344.9 1158.9 398.5 C1171.2 452.1 1174.9 512.2 1175.2 574 C1175.5 635.8 1167.5 720.9 1160.8 769 C1154.1 817.1 1146.4 824 1134.8 862.4 C1123.3 900.7 1114.8 948.5 1091.5 998.9 C1068.3 1049.2 1033.8 1111 995.3 1164.6 C956.8 1218.2 908.7 1271.9 860.6 1320.6 C812.5 1369.4 754.8 1421.4 706.7 1457.1 C658.6 1492.9 616.9 1516.9 572 1535.1 C527.1 1553.3 479 1565.5 437.4 1566.3 C395.7 1567.1 360.4 1560.6 321.9 1540 C283.4 1519.3 238.5 1481.5 206.5 1442.5 C174.4 1403.5 142.7 1371.8 129.5 1306 C116.4 1240.2 124.7 1123.2 127.6 1047.6 C130.5 972 126.5 923.4 146.8 852.6 C167.2 781.8 208.6 694.4 249.8 622.8 C291 551.1 341.2 482.5 394.1 422.9 C447 363.2 512.7 307.7 567.2 264.9 C621.7 222.2 673.9 189.7 721.1 166.5 C768.4 143.2 805.3 127.5 851 125.5Z"/>
<path class="w" d="M820 265 C871.7 260 913.3 272.5 950 290 C986.7 307.5 1017.5 335 1040 370 C1062.5 405 1075.8 453.3 1085 500 C1094.2 546.7 1097.2 600 1095 650 C1092.8 700 1079.8 759 1072 800 C1064.2 841 1061.7 854.8 1048 895.8 C1034.3 936.7 1018 997.4 990 1045.8 C962 1094.1 925 1139.1 880 1185.8 C835 1232.4 773.3 1287.4 720 1325.8 C666.7 1364.1 608.3 1397.4 560 1415.8 C511.7 1434.1 473.3 1440.8 430 1435.8 C386.7 1430.8 335.8 1414.1 300 1385.8 C264.2 1357.4 232.5 1314.1 215 1265.8 C197.5 1217.4 195.8 1152.4 195 1095.8 C194.2 1039.1 201.7 975.8 210 925.8 C218.3 875.8 224.2 850 245 795.8 C265.8 741.5 295.8 659.3 335 600 C374.2 540.7 429.2 486.7 480 440 C530.8 393.3 583.3 349.2 640 320 C696.7 290.8 768.3 270 820 265Z"/>
<path class="k3" d="M1085 500 C1086.7 525 1097.2 600 1095 650 C1092.8 700 1079.8 759 1072 800 C1064.2 841 1061.7 854.8 1048 895.8 C1034.3 936.7 1018 997.4 990 1045.8 C962 1094.1 925 1139.1 880 1185.8 C835 1232.4 773.3 1287.4 720 1325.8 C666.7 1364.1 605 1397.4 560 1415.8 C515 1434.1 468.3 1432.4 450 1435.8" style="stroke-width:3.90"/>
<ellipse class="f" cx="835.1" cy="154.8" rx="11" ry="13" transform="rotate(20 835.1 154.8)"/>
<ellipse class="f" cx="930.7" cy="174.2" rx="22" ry="28" transform="rotate(20 930.7 174.2)"/>
<ellipse class="f" cx="1012.8" cy="220" rx="11" ry="13" transform="rotate(20 1012.8 220)"/>
<ellipse class="f" cx="1078.7" cy="290.1" rx="11" ry="13" transform="rotate(20 1078.7 290.1)"/>
<ellipse class="f" cx="1114.4" cy="380.9" rx="11" ry="13" transform="rotate(20 1114.4 380.9)"/>
<ellipse class="f" cx="1133.6" cy="475.6" rx="22" ry="28" transform="rotate(20 1133.6 475.6)"/>
<ellipse class="f" cx="1142.6" cy="572.7" rx="11" ry="13" transform="rotate(20 1142.6 572.7)"/>
<ellipse class="f" cx="1137.1" cy="669.9" rx="11" ry="13" transform="rotate(20 1137.1 669.9)"/>
<ellipse class="f" cx="1129.9" cy="767.2" rx="11" ry="13" transform="rotate(20 1129.9 767.2)"/>
<ellipse class="f" cx="1104" cy="861.2" rx="22" ry="28" transform="rotate(20 1104 861.2)"/>
<ellipse class="f" cx="1074.5" cy="954.2" rx="11" ry="13" transform="rotate(20 1074.5 954.2)"/>
<ellipse class="f" cx="1032.7" cy="1041.7" rx="11" ry="13" transform="rotate(20 1032.7 1041.7)"/>
<ellipse class="f" cx="983.9" cy="1126.1" rx="11" ry="13" transform="rotate(20 983.9 1126.1)"/>
<ellipse class="f" cx="923.7" cy="1202.5" rx="22" ry="28" transform="rotate(20 923.7 1202.5)"/>
<ellipse class="f" cx="860.1" cy="1276.4" rx="11" ry="13" transform="rotate(20 860.1 1276.4)"/>
<ellipse class="f" cx="789.5" cy="1343.5" rx="11" ry="13" transform="rotate(20 789.5 1343.5)"/>
<ellipse class="f" cx="716.6" cy="1408.3" rx="11" ry="13" transform="rotate(20 716.6 1408.3)"/>
<ellipse class="f" cx="635.2" cy="1461.4" rx="22" ry="28" transform="rotate(20 635.2 1461.4)"/>
<ellipse class="f" cx="548.5" cy="1504.3" rx="11" ry="13" transform="rotate(20 548.5 1504.3)"/>
<ellipse class="f" cx="453.5" cy="1526.4" rx="11" ry="13" transform="rotate(20 453.5 1526.4)"/>
<ellipse class="f" cx="358.4" cy="1510.1" rx="11" ry="13" transform="rotate(20 358.4 1510.1)"/>
<ellipse class="f" cx="278.2" cy="1458.5" rx="22" ry="28" transform="rotate(20 278.2 1458.5)"/>
<ellipse class="f" cx="210.4" cy="1390.1" rx="11" ry="13" transform="rotate(20 210.4 1390.1)"/>
<ellipse class="f" cx="162.6" cy="1305.1" rx="11" ry="13" transform="rotate(20 162.6 1305.1)"/>
<ellipse class="f" cx="148.4" cy="1211.1" rx="11" ry="13" transform="rotate(20 148.4 1211.1)"/>
<ellipse class="f" cx="147.7" cy="1113.6" rx="22" ry="28" transform="rotate(20 147.7 1113.6)"/>
<ellipse class="f" cx="148.9" cy="1016.2" rx="11" ry="13" transform="rotate(20 148.9 1016.2)"/>
<ellipse class="f" cx="158.4" cy="919.1" rx="11" ry="13" transform="rotate(20 158.4 919.1)"/>
<ellipse class="f" cx="176.1" cy="824.2" rx="11" ry="13" transform="rotate(20 176.1 824.2)"/>
<ellipse class="f" cx="215.9" cy="735.2" rx="22" ry="28" transform="rotate(20 215.9 735.2)"/>
<ellipse class="f" cx="255.7" cy="646.1" rx="11" ry="13" transform="rotate(20 255.7 646.1)"/>
<ellipse class="f" cx="309.4" cy="565.1" rx="11" ry="13" transform="rotate(20 309.4 565.1)"/>
<ellipse class="f" cx="366.4" cy="485.9" rx="11" ry="13" transform="rotate(20 366.4 485.9)"/>
<ellipse class="f" cx="429.3" cy="412.1" rx="22" ry="28" transform="rotate(20 429.3 412.1)"/>
<ellipse class="f" cx="501.3" cy="346.3" rx="11" ry="13" transform="rotate(20 501.3 346.3)"/>
<ellipse class="f" cx="574.4" cy="281.9" rx="11" ry="13" transform="rotate(20 574.4 281.9)"/>
<ellipse class="f" cx="656.5" cy="229.2" rx="11" ry="13" transform="rotate(20 656.5 229.2)"/>
<ellipse class="f" cx="742.2" cy="184.2" rx="22" ry="28" transform="rotate(20 742.2 184.2)"/>
<ellipse class="f" cx="775" cy="895.8" rx="188" ry="235" transform="rotate(32 775 895.8)"/>
<ellipse class="wk" cx="775" cy="895.8" rx="180" ry="228" transform="rotate(32 775 895.8)" style="stroke-width:1.00"/>
<rect class="wn" x="690" y="685" width="70" height="42" rx="12" transform="rotate(-28 690 685)"/>
<rect class="wn" x="640" y="765" width="76" height="42" rx="12" transform="rotate(-28 640 765)"/>
<rect class="wn" x="612" y="840" width="80" height="42" rx="12" transform="rotate(-28 612 840)"/>
<rect class="wn" x="598" y="917" width="82" height="42" rx="12" transform="rotate(-28 598 917)"/>
<rect class="wn" x="600" y="993" width="80" height="42" rx="12" transform="rotate(-28 600 993)"/>
<rect class="wn" x="620" y="1063" width="76" height="42" rx="12" transform="rotate(-28 620 1063)"/>
<rect class="wn" x="665" y="635" width="60" height="42" rx="12" transform="rotate(-28 665 635)"/>
<ellipse class="f" cx="815" cy="920.8" rx="125" ry="170" transform="rotate(32 815 920.8)"/>
<ellipse class="wk" cx="815" cy="920.8" rx="112" ry="158" transform="rotate(32 815 920.8)" style="stroke-width:1.30"/>
<ellipse class="wn" cx="822" cy="925.8" rx="72" ry="112" transform="rotate(32 822 925.8)"/>
<ellipse class="wn" cx="930" cy="805.8" rx="6" ry="6"/>
<ellipse class="wn" cx="955" cy="875.8" rx="6" ry="6"/>
<ellipse class="wn" cx="950" cy="955.8" rx="6" ry="6"/>
<ellipse class="wn" cx="925" cy="1025.8" rx="6" ry="6"/>
<ellipse class="wn" cx="880" cy="1075.8" rx="6" ry="6"/>
<ellipse class="wn" cx="830" cy="1095.8" rx="6" ry="6"/>
</g>

<!-- 33_H5.svg -->
<g id="H5" transform="translate(370,560) scale(0.15924)">
<path class="w" d="M1083 831.8 L2016 1412 L2266 1582 L2156 1964 L978 1186.8 L1058 1076.8Z"/>
<path class="w" d="M45 1082 C45 1058.7 43.3 1014 45 942 C46.7 870 42.5 727 55 650 C67.5 573 90.8 535 120 480 C149.2 425 186.7 368.3 230 320 C273.3 271.7 330 225 380 190 C430 155 486.7 127.5 530 110 C573.3 92.5 605 86.7 640 85 C675 83.3 708.3 87.5 740 100 C771.7 112.5 806.7 138.3 830 160 C853.3 181.7 868.7 206.7 880 230 C891.3 253.3 895 288.3 898 300 L700 600 L420 1200 L400 1229 C388.3 1232 355 1246.5 330 1247 C305 1247.5 286.7 1247 250 1232 C213.3 1217 144.2 1182 110 1157 C75.8 1132 55.8 1094.5 45 1082Z"/>
<path class="k3" d="M48 1082 C48 1058.7 46.3 1014 48 942 C49.7 870 45.5 726.7 58 650 C70.5 573.3 93.8 536.5 123 482 C152.2 427.5 189.7 371 233 323 C276.3 275 333 228.8 383 194 C433 159.2 490.2 131.3 533 114 C575.8 96.7 622.2 94 640 90" style="stroke-width:5.12"/>
<path class="k2" d="M48 1082 C58.3 1094.8 76.3 1133.7 110 1159 C143.7 1184.3 213.3 1219 250 1234 C286.7 1249 305 1249.8 330 1249 C355 1248.2 388.3 1232.3 400 1229"/>
<path class="k" d="M130 560 C151.7 536.7 206.7 468.3 260 420 C313.3 371.7 390 305 450 270 C510 235 578.3 217.5 620 210 C661.7 202.5 686.7 222.5 700 225"/>
<path class="k" d="M120 902 C120.8 925.3 115 1005.3 125 1042 C135 1078.7 150.8 1098.7 180 1122 C209.2 1145.3 258.3 1162.8 300 1182 C341.7 1201.2 408.3 1227.8 430 1237"/>
<ellipse class="w" cx="745" cy="195" rx="50" ry="62" transform="rotate(25 745 195)"/>
<ellipse class="f" cx="747" cy="195" rx="20" ry="30" transform="rotate(25 747 195)"/>
<ellipse class="w" cx="380" cy="320" rx="55" ry="66" transform="rotate(25 380 320)"/>
<ellipse class="f" cx="382" cy="320" rx="20" ry="30" transform="rotate(25 382 320)"/>
<ellipse class="w" cx="140" cy="660" rx="50" ry="66" transform="rotate(25 140 660)"/>
<ellipse class="f" cx="142" cy="660" rx="20" ry="30" transform="rotate(25 142 660)"/>
<ellipse class="w1" cx="150" cy="1127" rx="38" ry="45" transform="rotate(20 150 1127)"/>
<ellipse class="f" cx="158" cy="1127" rx="14" ry="30" transform="rotate(20 158 1127)"/>
<path class="w" d="M950 262 C958.3 250.3 975 206 1000 192 C1025 178 1076.7 174.7 1100 178 C1123.3 181.3 1133.3 206.3 1140 212 L1140 212 C1169.7 256.1 1283.7 411 1318 476.8 C1352.3 542.6 1347.7 573.5 1346 606.8 C1344.3 640.1 1327.7 659.8 1308 676.8 C1288.3 693.8 1252.2 708.8 1228 708.8 C1203.8 708.8 1173.8 682.1 1163 676.8 L1000 372Z"/>
<path class="k" d="M1140 214 L1135 290 L1000 370"/>
<path class="k" d="M1135 290 L1148 568.8"/>
<path class="k" d="M1098 581.8 L1148 568.8 L1308 478.8"/>
<path class="k" d="M1148 568.8 L1163 638.8"/>
<path class="k3" d="M1163 638.8 L1318 552.8" style="stroke-width:4.39"/>
<path class="k3" d="M1140 212 C1154.7 239.5 1198.3 332.7 1228 376.8 C1257.7 420.9 1298.7 438.5 1318 476.8 C1337.3 515.1 1339.7 585.1 1344 606.8" style="stroke-width:3.90"/>
<ellipse class="f" cx="1253" cy="646.8" rx="14" ry="22" transform="rotate(10 1253 646.8)"/>
<path class="k" d="M1153 706.8 C1154.2 721.8 1164.2 773.5 1160 796.8 C1155.8 820.1 1133.3 838.5 1128 846.8"/>
<path class="k" d="M1163 676.8 L1090 806.8"/>
<path class="w" d="M385 942 C390.8 893.3 404.2 850.3 420 800 C435.8 749.7 453.3 690 480 640 C506.7 590 543.3 540 580 500 C616.7 460 660 425.8 700 400 C740 374.2 786.7 355 820 345 C853.3 335 870 330.8 900 340 C930 349.2 971.7 373.3 1000 400 C1028.3 426.7 1053.7 460 1070 500 C1086.3 540 1095 590 1098 640 C1101 690 1090.5 768 1088 800 C1085.5 832 1088 785.7 1083 831.8 C1078 877.9 1075.5 1017.6 1058 1076.8 C1040.5 1136 1008 1170.1 978 1186.8 C948 1203.5 919.7 1168.5 878 1176.8 C836.3 1185.1 761 1220.1 728 1236.8 C695 1253.5 704.7 1267 680 1277 C655.3 1287 615 1299.5 580 1297 C545 1294.5 498.3 1279.5 470 1262 C441.7 1244.5 424.2 1220.3 410 1192 C395.8 1163.7 389.2 1133.7 385 1092 C380.8 1050.3 379.2 990.7 385 942Z"/>
<path class="k3" d="M770 346 L1130 216" style="stroke-width:3.90"/>
<ellipse class="w" cx="585" cy="1142" rx="105" ry="70"/>
<ellipse class="k2" cx="585" cy="1147" rx="75" ry="45"/>
<ellipse class="f" cx="585" cy="1157" rx="48" ry="20"/>
<path class="k3" d="M765 1042 C777.5 1038.3 813.3 1018.3 840 1020 C866.7 1021.7 910.8 1046.7 925 1052" style="stroke-width:3.66"/>
<path class="k3" d="M785 1147 C797.5 1142.8 832.5 1120.8 860 1122 C887.5 1123.2 935 1148.7 950 1154" style="stroke-width:3.66"/>
<path class="k1" d="M850 1062 L850 1127"/>
<path class="k3" d="M893 791.8 C896.3 806 898.8 849.3 913 876.8 C927.2 904.3 967.2 943.5 978 956.8" style="stroke-width:4.15"/>
<path class="k3" d="M1028 716.8 C1031.3 730.1 1036.3 773.5 1048 796.8 C1059.7 820.1 1089.7 846.8 1098 856.8" style="stroke-width:4.15"/>
<ellipse class="k2" cx="963" cy="866.8" rx="16" ry="34" transform="rotate(-25 963 866.8)"/>
<ellipse class="k2" cx="1013" cy="821.8" rx="16" ry="34" transform="rotate(-25 1013 821.8)"/>
<path class="d" d="M898 936.8 L868 988.8"/>
<path class="k3" d="M1268 936.8 C1254.7 940.5 1214.7 942.1 1188 958.8 C1161.3 975.5 1129.3 1003.8 1108 1036.8 C1086.7 1069.8 1068.3 1123.5 1060 1156.8 C1051.7 1190.1 1053 1214.8 1058 1236.8 C1063 1258.8 1084.7 1280.1 1090 1288.8" style="stroke-width:4.39"/>
<ellipse class="f" cx="1113" cy="934.8" rx="30" ry="18" transform="rotate(-10 1113 934.8)"/>
<g id="brk">
<path class="w" d="M1776 1542 L1886 1482 L2016 1552 L2016 1592 L1906 1657 L1781 1592Z"/>
<path class="k" d="M1776 1542 L1904 1612 L2016 1552"/>
<path class="k" d="M1904 1612 L1906 1657"/>
<path class="f" d="M1846 1542 L1916 1507 L1991 1552 L1921 1587Z"/>
<path class="w" d="M1911 1497 L2016 1442 L2136 1507 L2031 1567Z"/>
<ellipse class="f" cx="2034" cy="1509" rx="26" ry="20"/>
<path class="w" d="M2021 1417 L2126 1357 L2266 1432 L2266 1487 L2236 1542 L2136 1507 L2021 1447Z"/>
<path class="f" d="M2056 1427 L2126 1392 L2201 1432 L2136 1467 L2136 1502 L2066 1462Z"/>
<path class="wk2" d="M2106 1462 L2136 1402"/>
<path class="k" d="M2136 1467 L2261 1434"/>
<path class="w" d="M1906 1657 C1921 1667 1975.2 1719.5 1996 1717 C2016.8 1714.5 2016 1664.5 2031 1642 C2046 1619.5 2065.2 1598.7 2086 1582 C2106.8 1565.3 2144.3 1548.7 2156 1542"/>
</g>
<ellipse class="w" cx="2286" cy="1777" rx="158" ry="205" transform="rotate(25 2286 1777)" style="stroke-width:3.17"/>
<ellipse class="k" cx="2296" cy="1782" rx="135" ry="180" transform="rotate(25 2296 1782)"/>
<ellipse class="f" cx="2301" cy="1797" rx="92" ry="125" transform="rotate(25 2301 1797)"/>
<rect class="wn" x="2266" y="1751" width="16" height="9" opacity="0.7"/>
<rect class="wn" x="2281" y="1758" width="12" height="5" opacity="0.7"/>
<rect class="wn" x="2266" y="1733" width="6" height="6" opacity="0.7"/>
<rect class="wn" x="2285" y="1801" width="13" height="4" opacity="0.7"/>
<rect class="wn" x="2300" y="1796" width="8" height="7" opacity="0.7"/>
<rect class="wn" x="2290" y="1876" width="11" height="5" opacity="0.7"/>
<rect class="wn" x="2301" y="1790" width="14" height="8" opacity="0.7"/>
<rect class="wn" x="2293" y="1800" width="5" height="5" opacity="0.7"/>
<rect class="wn" x="2309" y="1713" width="7" height="5" opacity="0.7"/>
<rect class="wn" x="2286" y="1879" width="13" height="9" opacity="0.7"/>
<rect class="wn" x="2292" y="1785" width="16" height="5" opacity="0.7"/>
<rect class="wn" x="2356" y="1780" width="9" height="4" opacity="0.7"/>
<rect class="wn" x="2294" y="1808" width="7" height="6" opacity="0.7"/>
<rect class="wn" x="2318" y="1807" width="14" height="8" opacity="0.7"/>
<rect class="wn" x="2344" y="1798" width="10" height="4" opacity="0.7"/>
<rect class="wn" x="2281" y="1864" width="12" height="9" opacity="0.7"/>
<rect class="wn" x="2288" y="1835" width="16" height="5" opacity="0.7"/>
<rect class="wn" x="2359" y="1827" width="5" height="9" opacity="0.7"/>
<rect class="wn" x="2284" y="1824" width="13" height="7" opacity="0.7"/>
<rect class="wn" x="2276" y="1834" width="5" height="7" opacity="0.7"/>
<rect class="wn" x="2312" y="1801" width="8" height="4" opacity="0.7"/>
<rect class="wn" x="2303" y="1715" width="12" height="6" opacity="0.7"/>
<rect class="wn" x="2244" y="1790" width="9" height="7" opacity="0.7"/>
<rect class="wn" x="2338" y="1838" width="10" height="6" opacity="0.7"/>
<rect class="wn" x="2359" y="1815" width="6" height="5" opacity="0.7"/>
<ellipse class="f" cx="2381" cy="1652" rx="16" ry="20" transform="rotate(25 2381 1652)"/>
<ellipse class="f" cx="2206" cy="1737" rx="16" ry="20" transform="rotate(25 2206 1737)"/>
<ellipse class="f" cx="2386" cy="1852" rx="16" ry="20" transform="rotate(25 2386 1852)"/>
<ellipse class="f" cx="2216" cy="1902" rx="16" ry="20" transform="rotate(25 2216 1902)"/>
<ellipse class="k2" cx="1308" cy="1046.8" rx="26" ry="18" transform="rotate(-10 1308 1046.8)"/>
<ellipse class="k" cx="1306" cy="1042" rx="24" ry="18"/>
<path class="d" d="M180 680 L640 942 L738 996.8"/>
<path class="d" d="M1578 546.8 L1573 696.8 L1318 856.8 L1308 1016.8"/>
<path class="d" d="M990 1142 L970 1482 L1040 1522"/>
<path class="k1" d="M1040 1522 L1170 1542 L1210 1482 L1256 1482"/>
<path class="k1" d="M1040 1532 L1130 1632 L1100 1702 L1110 1732"/>
<path class="k1" d="M455 1522 L480 1477 L572 1467 L578 1352 L565 1347 L590 1317 L612 1344 L600 1350 L610 1462 L715 1457 L740 1497"/>
<path class="f" d="M500 1732 C500.8 1718.7 485 1675.3 505 1652 C525 1628.7 581.2 1592.8 620 1592 C658.8 1591.2 717.2 1623.7 738 1647 C758.8 1670.3 743.8 1717.8 745 1732Z"/>
<path class="wk" d="M508 1664 C526.7 1655 582 1611 620 1610 C658 1609 716.7 1650 736 1658" style="stroke-width:0.90"/>
<path class="wk" d="M508 1681 C526.7 1672 582 1628 620 1627 C658 1626 716.7 1667 736 1675" style="stroke-width:0.90"/>
<path class="wk" d="M508 1698 C526.7 1689 582 1645 620 1644 C658 1643 716.7 1684 736 1692" style="stroke-width:0.90"/>
<ellipse class="w" cx="620" cy="1742" rx="125" ry="66" transform="rotate(5 620 1742)"/>
<path class="f" d="M565 1742 L610 1697 L640 1717 L690 1712 L670 1762 L620 1772 L600 1752Z"/>
<path class="wk2" d="M600 1732 L650 1742"/>
<path class="w" d="M1236 1574 L1280 1596 L1496 1710 L1424 1830 L1256 1734 L1236 1722Z" style="stroke-width:1.60"/>
<path class="k2" d="M1264 1591 L1216 1702" style="stroke-width:1.10;stroke-dasharray:4 4 10 3"/>
<path class="k2" d="M1278 1598.4 L1230 1709.4" style="stroke-width:1.10;stroke-dasharray:4 2 5 3"/>
<path class="k2" d="M1292 1605.8 L1244 1716.8" style="stroke-width:1.10;stroke-dasharray:4 3 10 2"/>
<path class="k2" d="M1306 1613.2 L1258 1724.2" style="stroke-width:1.10;stroke-dasharray:6 5 11 5"/>
<path class="k2" d="M1320 1620.6 L1272 1731.6" style="stroke-width:1.10;stroke-dasharray:6 3 10 2"/>
<path class="k2" d="M1334 1628 L1286 1739" style="stroke-width:1.10;stroke-dasharray:6 3 4 4"/>
<path class="k2" d="M1348 1635.4 L1300 1746.4" style="stroke-width:1.10;stroke-dasharray:7 5 11 5"/>
<path class="k2" d="M1362 1642.8 L1314 1753.8" style="stroke-width:1.10;stroke-dasharray:8 2 8 2"/>
<path class="k2" d="M1376 1650.2 L1328 1761.2" style="stroke-width:1.10;stroke-dasharray:9 2 10 6"/>
<path class="k2" d="M1390 1657.6 L1342 1768.6" style="stroke-width:1.10;stroke-dasharray:9 5 5 2"/>
<path class="k2" d="M1404 1665 L1356 1776" style="stroke-width:1.10;stroke-dasharray:5 3 5 5"/>
<path class="k2" d="M1418 1672.4 L1370 1783.4" style="stroke-width:1.10;stroke-dasharray:8 3 6 6"/>
<path class="k2" d="M1432 1679.8 L1384 1790.8" style="stroke-width:1.10;stroke-dasharray:3 2 11 3"/>
<path class="k2" d="M1446 1687.2 L1398 1798.2" style="stroke-width:1.10;stroke-dasharray:4 5 11 4"/>
<path class="k2" d="M1460 1694.6 L1412 1805.6" style="stroke-width:1.10;stroke-dasharray:7 4 10 3"/>
<path class="k2" d="M1474 1702 L1426 1813" style="stroke-width:1.10;stroke-dasharray:4 2 12 4"/>
<path class="w" d="M1418 1830 C1417.2 1808.7 1418 1783 1431 1762 C1444 1741 1475.2 1714.7 1496 1704 C1516.8 1693.3 1540 1686.7 1556 1698 C1572 1709.3 1586 1746 1592 1772 C1598 1798 1602 1830.3 1592 1854 C1582 1877.7 1550 1902 1532 1914 C1514 1926 1500 1930 1484 1926 C1468 1922 1447 1906 1436 1890 C1425 1874 1418.8 1851.3 1418 1830Z"/>
<path class="k" d="M1461 1912 C1460.2 1897 1450.2 1850.3 1456 1822 C1461.8 1793.7 1479.3 1760.3 1496 1742 C1512.7 1723.7 1546 1717 1556 1712"/>
<path class="k1" d="M1441 1882 C1441 1867 1434.3 1817 1441 1792 C1447.7 1767 1474.3 1742 1481 1732"/>
</g>

<!-- 34_H2.svg -->
<use href="#D_tube" transform="translate(438.5,-66.6)"/>
<g id="H2" transform="translate(584,358) scale(0.15924)">
<path class="w" d="M1083 831.8 L2082 1381 L2332 1551 L2222 1933 L978 1186.8 L1058 1076.8Z"/>
<path class="w" d="M75 1135 C72 1129.5 64 1150.2 57 1102 C50 1053.8 36.2 923.3 33 846 C29.8 768.7 26 699.3 38 638 C50 576.7 69.8 536.5 105 478 C140.2 419.5 193 342.8 249 287 C305 231.2 379.7 179 441 143 C502.3 107 570.5 81.2 617 71 C663.5 60.8 702.8 80.2 720 82 L640 95 L300 400 L60 800 L60 1090Z" style="stroke-width:3.66"/>
<path class="w" d="M45 1082 C45 1058.7 43.3 1014 45 942 C46.7 870 42.5 727 55 650 C67.5 573 90.8 535 120 480 C149.2 425 186.7 368.3 230 320 C273.3 271.7 330 225 380 190 C430 155 486.7 127.5 530 110 C573.3 92.5 605 86.7 640 85 C675 83.3 708.3 87.5 740 100 C771.7 112.5 806.7 138.3 830 160 C853.3 181.7 868.7 206.7 880 230 C891.3 253.3 895 288.3 898 300 L700 600 L420 1200 L400 1229 C388.3 1232 355 1246.5 330 1247 C305 1247.5 286.7 1247 250 1232 C213.3 1217 144.2 1182 110 1157 C75.8 1132 55.8 1094.5 45 1082Z"/>
<path class="k2" d="M48 1082 C58.3 1094.8 76.3 1133.7 110 1159 C143.7 1184.3 213.3 1219 250 1234 C286.7 1249 305 1249.8 330 1249 C355 1248.2 388.3 1232.3 400 1229"/>
<path class="k" d="M130 560 C151.7 536.7 206.7 468.3 260 420 C313.3 371.7 390 305 450 270 C510 235 578.3 217.5 620 210 C661.7 202.5 686.7 222.5 700 225"/>
<path class="k" d="M120 902 C120.8 925.3 115 1005.3 125 1042 C135 1078.7 150.8 1098.7 180 1122 C209.2 1145.3 258.3 1162.8 300 1182 C341.7 1201.2 408.3 1227.8 430 1237"/>
<ellipse class="w" cx="745" cy="195" rx="50" ry="62" transform="rotate(25 745 195)"/>
<ellipse class="f" cx="747" cy="195" rx="20" ry="30" transform="rotate(25 747 195)"/>
<ellipse class="w" cx="380" cy="320" rx="55" ry="66" transform="rotate(25 380 320)"/>
<ellipse class="f" cx="382" cy="320" rx="20" ry="30" transform="rotate(25 382 320)"/>
<ellipse class="w" cx="140" cy="660" rx="50" ry="66" transform="rotate(25 140 660)"/>
<ellipse class="f" cx="142" cy="660" rx="20" ry="30" transform="rotate(25 142 660)"/>
<ellipse class="w1" cx="150" cy="1127" rx="38" ry="45" transform="rotate(20 150 1127)"/>
<ellipse class="f" cx="158" cy="1127" rx="14" ry="30" transform="rotate(20 158 1127)"/>
<path class="w" d="M950 262 C958.3 250.3 975 206 1000 192 C1025 178 1076.7 174.7 1100 178 C1123.3 181.3 1133.3 206.3 1140 212 L1140 212 C1169.7 256.1 1283.7 411 1318 476.8 C1352.3 542.6 1347.7 573.5 1346 606.8 C1344.3 640.1 1327.7 659.8 1308 676.8 C1288.3 693.8 1252.2 708.8 1228 708.8 C1203.8 708.8 1173.8 682.1 1163 676.8 L1000 372Z"/>
<path class="k" d="M1140 214 L1135 290 L1000 370"/>
<path class="k" d="M1135 290 L1148 568.8"/>
<path class="k" d="M1098 581.8 L1148 568.8 L1308 478.8"/>
<path class="k" d="M1148 568.8 L1163 638.8"/>
<path class="k3" d="M1163 638.8 L1318 552.8" style="stroke-width:4.39"/>
<path class="k3" d="M1140 212 C1154.7 239.5 1198.3 332.7 1228 376.8 C1257.7 420.9 1298.7 438.5 1318 476.8 C1337.3 515.1 1339.7 585.1 1344 606.8" style="stroke-width:3.90"/>
<ellipse class="f" cx="1253" cy="646.8" rx="14" ry="22" transform="rotate(10 1253 646.8)"/>
<path class="k" d="M1153 706.8 C1154.2 721.8 1164.2 773.5 1160 796.8 C1155.8 820.1 1133.3 838.5 1128 846.8"/>
<path class="k" d="M1163 676.8 L1090 806.8"/>
<path class="w" d="M385 942 C390.8 893.3 404.2 850.3 420 800 C435.8 749.7 453.3 690 480 640 C506.7 590 543.3 540 580 500 C616.7 460 660 425.8 700 400 C740 374.2 786.7 355 820 345 C853.3 335 870 330.8 900 340 C930 349.2 971.7 373.3 1000 400 C1028.3 426.7 1053.7 460 1070 500 C1086.3 540 1095 590 1098 640 C1101 690 1090.5 768 1088 800 C1085.5 832 1088 785.7 1083 831.8 C1078 877.9 1075.5 1017.6 1058 1076.8 C1040.5 1136 1008 1170.1 978 1186.8 C948 1203.5 919.7 1168.5 878 1176.8 C836.3 1185.1 761 1220.1 728 1236.8 C695 1253.5 704.7 1267 680 1277 C655.3 1287 615 1299.5 580 1297 C545 1294.5 498.3 1279.5 470 1262 C441.7 1244.5 424.2 1220.3 410 1192 C395.8 1163.7 389.2 1133.7 385 1092 C380.8 1050.3 379.2 990.7 385 942Z"/>
<path class="k3" d="M770 346 L1130 216" style="stroke-width:3.90"/>
<ellipse class="w" cx="585" cy="1142" rx="105" ry="70"/>
<ellipse class="k2" cx="585" cy="1147" rx="75" ry="45"/>
<ellipse class="f" cx="585" cy="1157" rx="48" ry="20"/>
<path class="k3" d="M765 1042 C777.5 1038.3 813.3 1018.3 840 1020 C866.7 1021.7 910.8 1046.7 925 1052" style="stroke-width:3.66"/>
<path class="k3" d="M785 1147 C797.5 1142.8 832.5 1120.8 860 1122 C887.5 1123.2 935 1148.7 950 1154" style="stroke-width:3.66"/>
<path class="k1" d="M850 1062 L850 1127"/>
<path class="k3" d="M893 791.8 C896.3 806 898.8 849.3 913 876.8 C927.2 904.3 967.2 943.5 978 956.8" style="stroke-width:4.15"/>
<path class="k3" d="M1028 716.8 C1031.3 730.1 1036.3 773.5 1048 796.8 C1059.7 820.1 1089.7 846.8 1098 856.8" style="stroke-width:4.15"/>
<ellipse class="k2" cx="963" cy="866.8" rx="16" ry="34" transform="rotate(-25 963 866.8)"/>
<ellipse class="k2" cx="1013" cy="821.8" rx="16" ry="34" transform="rotate(-25 1013 821.8)"/>
<path class="d" d="M898 936.8 L868 988.8"/>
<path class="k3" d="M1268 936.8 C1254.7 940.5 1214.7 942.1 1188 958.8 C1161.3 975.5 1129.3 1003.8 1108 1036.8 C1086.7 1069.8 1068.3 1123.5 1060 1156.8 C1051.7 1190.1 1053 1214.8 1058 1236.8 C1063 1258.8 1084.7 1280.1 1090 1288.8" style="stroke-width:4.39"/>
<ellipse class="f" cx="1113" cy="934.8" rx="30" ry="18" transform="rotate(-10 1113 934.8)"/>
<path class="k2" d="M95 1100 C94 1095 92.7 1112.3 89 1070 C85.3 1027.7 74.3 915.2 73 846 C71.7 776.8 69 711.7 81 654.5 C93 597.3 111.7 558.6 145 502.6 C178.3 446.6 227.7 373.3 281 318.7 C334.3 264.1 409 209.4 465 174.8 C521 140.2 591.7 121.6 617 110.9" style="stroke-width:3.17"/>
<g transform="translate(66,-31)"><g>
<path class="w" d="M1776 1542 L1886 1482 L2016 1552 L2016 1592 L1906 1657 L1781 1592Z"/>
<path class="k" d="M1776 1542 L1904 1612 L2016 1552"/>
<path class="k" d="M1904 1612 L1906 1657"/>
<path class="f" d="M1846 1542 L1916 1507 L1991 1552 L1921 1587Z"/>
<path class="w" d="M1911 1497 L2016 1442 L2136 1507 L2031 1567Z"/>
<ellipse class="f" cx="2034" cy="1509" rx="26" ry="20"/>
<path class="w" d="M2021 1417 L2126 1357 L2266 1432 L2266 1487 L2236 1542 L2136 1507 L2021 1447Z"/>
<path class="f" d="M2056 1427 L2126 1392 L2201 1432 L2136 1467 L2136 1502 L2066 1462Z"/>
<path class="wk2" d="M2106 1462 L2136 1402"/>
<path class="k" d="M2136 1467 L2261 1434"/>
<path class="w" d="M1906 1657 C1921 1667 1975.2 1719.5 1996 1717 C2016.8 1714.5 2016 1664.5 2031 1642 C2046 1619.5 2065.2 1598.7 2086 1582 C2106.8 1565.3 2144.3 1548.7 2156 1542"/>
</g>
<ellipse class="w" cx="2286" cy="1777" rx="158" ry="205" transform="rotate(25 2286 1777)" style="stroke-width:3.17"/>
<ellipse class="k" cx="2296" cy="1782" rx="135" ry="180" transform="rotate(25 2296 1782)"/>
<ellipse class="f" cx="2301" cy="1797" rx="92" ry="125" transform="rotate(25 2301 1797)"/>
<rect class="wn" x="2266" y="1751" width="16" height="9" opacity="0.7"/>
<rect class="wn" x="2281" y="1758" width="12" height="5" opacity="0.7"/>
<rect class="wn" x="2266" y="1733" width="6" height="6" opacity="0.7"/>
<rect class="wn" x="2285" y="1801" width="13" height="4" opacity="0.7"/>
<rect class="wn" x="2300" y="1796" width="8" height="7" opacity="0.7"/>
<rect class="wn" x="2290" y="1876" width="11" height="5" opacity="0.7"/>
<rect class="wn" x="2301" y="1790" width="14" height="8" opacity="0.7"/>
<rect class="wn" x="2293" y="1800" width="5" height="5" opacity="0.7"/>
<rect class="wn" x="2309" y="1713" width="7" height="5" opacity="0.7"/>
<rect class="wn" x="2286" y="1879" width="13" height="9" opacity="0.7"/>
<rect class="wn" x="2292" y="1785" width="16" height="5" opacity="0.7"/>
<rect class="wn" x="2356" y="1780" width="9" height="4" opacity="0.7"/>
<rect class="wn" x="2294" y="1808" width="7" height="6" opacity="0.7"/>
<rect class="wn" x="2318" y="1807" width="14" height="8" opacity="0.7"/>
<rect class="wn" x="2344" y="1798" width="10" height="4" opacity="0.7"/>
<rect class="wn" x="2281" y="1864" width="12" height="9" opacity="0.7"/>
<rect class="wn" x="2288" y="1835" width="16" height="5" opacity="0.7"/>
<rect class="wn" x="2359" y="1827" width="5" height="9" opacity="0.7"/>
<rect class="wn" x="2284" y="1824" width="13" height="7" opacity="0.7"/>
<rect class="wn" x="2276" y="1834" width="5" height="7" opacity="0.7"/>
<rect class="wn" x="2312" y="1801" width="8" height="4" opacity="0.7"/>
<rect class="wn" x="2303" y="1715" width="12" height="6" opacity="0.7"/>
<rect class="wn" x="2244" y="1790" width="9" height="7" opacity="0.7"/>
<rect class="wn" x="2338" y="1838" width="10" height="6" opacity="0.7"/>
<rect class="wn" x="2359" y="1815" width="6" height="5" opacity="0.7"/>
<ellipse class="f" cx="2381" cy="1652" rx="16" ry="20" transform="rotate(25 2381 1652)"/>
<ellipse class="f" cx="2206" cy="1737" rx="16" ry="20" transform="rotate(25 2206 1737)"/>
<ellipse class="f" cx="2386" cy="1852" rx="16" ry="20" transform="rotate(25 2386 1852)"/>
<ellipse class="f" cx="2216" cy="1902" rx="16" ry="20" transform="rotate(25 2216 1902)"/>
</g>
</g>
<g id="H2pin" transform="translate(720,330) scale(0.12739)">
<path class="w" d="M392 420 C382 383.3 388.7 326.3 390 300 C391.3 273.7 391.7 272 400 262 C408.3 252 425 241.2 440 240 C455 238.8 476.3 243 490 255 C503.7 267 487 282.8 522 312 C557 341.2 660.3 412 700 430 C739.7 448 741.7 416.7 760 420 C778.3 423.3 798 433.3 810 450 C822 466.7 833.3 488.3 832 520 C830.7 551.7 808.7 593.3 802 640 C795.3 686.7 787.3 745 792 800 C796.7 855 828.7 932.7 830 970 C831.3 1007.3 815 1015.7 800 1024 C785 1032.3 756.7 1032.3 740 1020 C723.3 1007.7 713.3 973.3 700 950 C686.7 926.7 683.3 921.7 660 880 C636.7 838.3 595 760 560 700 C525 640 478 566.7 450 520 C422 473.3 402 456.7 392 420Z"/>
<path class="k3" d="M390 300 C391.7 293.7 391.7 272 400 262 C408.3 252 425 241.2 440 240 C455 238.8 476.3 243 490 255 C503.7 267 487 282.8 522 312 C557 341.2 660.3 412 700 430 C739.7 448 741.7 416.7 760 420 C778.3 423.3 798 433.3 810 450 C822 466.7 833.3 488.3 832 520 C830.7 551.7 808.7 593.3 802 640 C795.3 686.7 787.3 745 792 800 C796.7 855 828.7 932.7 830 970 C831.3 1007.3 815 1015.7 800 1024 C785 1032.3 750 1020.7 740 1020" style="stroke-width:4.15"/>
<ellipse class="f" cx="445" cy="330" rx="24" ry="34" transform="rotate(-15 445 330)"/>
<ellipse class="f" cx="745" cy="510" rx="24" ry="34" transform="rotate(-15 745 510)"/>
<ellipse class="f" cx="752" cy="944.5" rx="24" ry="32" transform="rotate(-15 752 944.5)"/>
<ellipse class="w" cx="650" cy="690" rx="70" ry="170" transform="rotate(-27 650 690)"/>
<ellipse class="w" cx="615" cy="705" rx="70" ry="172" transform="rotate(-27 615 705)"/>
<path class="k3" d="M330 392 C350 400 414.2 417.8 450 440 C485.8 462.2 516.7 489.2 545 525 C573.3 560.8 600.8 609.2 620 655 C639.2 700.8 652.5 775.9 660 800 C667.5 824.1 666.7 774.6 665 799.5 C663.3 824.4 652.5 924.5 650 949.5" style="stroke-width:5.37"/>
<path class="k2" d="M130 530 C141.7 513.7 166.7 455 200 432 C233.3 409 308.3 398.7 330 392"/>
<path class="k" d="M420 470 C436.7 485 492.5 525 520 560 C547.5 595 568.3 636.7 585 680 C601.7 723.3 613.3 786.8 620 820 C626.7 853.2 624.2 869.6 625 879.5"/>
<path class="k2" d="M420 1049.5 C433.3 1055.3 470 1087.8 500 1084.5 C530 1081.2 575 1048.7 600 1029.5 C625 1010.3 641.7 979.5 650 969.5"/>
</g>
<g id="gf2" transform="translate(38,32)"><path class="f" d="M762 490 l8 -3 l4 8 l-2 9 l-9 3 l-4 -8z"/><path class="wk" d="M762 494 l10 -3 M762 499 l10 -3" style="stroke-width:0.80"/></g>

<!-- 40_bolt.svg -->
<g id="bolt" transform="translate(30,255) scale(0.12739)">
<path class="f" d="M165 320 L238 192 L348 164 L414 212 L420 262 L640 400 L645 470 L600 545 L545 572 L330 455 L262 452 L188 400Z"/>
<path class="wk2" d="M250 222 L300 250"/>
<path class="wk2" d="M195 322 L240 345"/>
<path class="wk2" d="M400 232 C386.7 237 341.3 244 320 262 C298.7 280 281.7 317 272 340 C262.3 363 259 383.3 262 400 C265 416.7 285.3 433.3 290 440" style="stroke-width:3.17"/>
<path class="wk" d="M392 246 C383 258.8 349.2 294.3 338 323 C326.8 351.7 327.2 402.2 325 418" style="stroke-width:0.80;opacity:0.75"/>
<path class="wk" d="M419 263 C410 275.8 376.2 311.3 365 340 C353.8 368.7 354.2 419.2 352 435" style="stroke-width:0.80;opacity:0.75"/>
<path class="wk" d="M446 280 C437 292.8 403.2 328.3 392 357 C380.8 385.7 381.2 436.2 379 452" style="stroke-width:0.80;opacity:0.75"/>
<path class="wk" d="M473 297 C464 309.8 430.2 345.3 419 374 C407.8 402.7 408.2 453.2 406 469" style="stroke-width:0.80;opacity:0.75"/>
<path class="wk" d="M500 314 C491 326.8 457.2 362.3 446 391 C434.8 419.7 435.2 470.2 433 486" style="stroke-width:0.80;opacity:0.75"/>
<path class="wk" d="M527 331 C518 343.8 484.2 379.3 473 408 C461.8 436.7 462.2 487.2 460 503" style="stroke-width:0.80;opacity:0.75"/>
<path class="wk" d="M554 348 C545 360.8 511.2 396.3 500 425 C488.8 453.7 489.2 504.2 487 520" style="stroke-width:0.80;opacity:0.75"/>
<path class="wk" d="M581 365 C572 377.8 538.2 413.3 527 442 C515.8 470.7 516.2 521.2 514 537" style="stroke-width:0.80;opacity:0.75"/>
<path class="wk" d="M608 382 C599 394.8 565.2 430.3 554 459 C542.8 487.7 543.2 538.2 541 554" style="stroke-width:0.80;opacity:0.75"/>
<ellipse class="wn" cx="588" cy="472" rx="40" ry="66" transform="rotate(28 588 472)"/>
<ellipse class="f" cx="790" cy="595" rx="108" ry="152" transform="rotate(28 790 595)"/>
<ellipse class="wn" cx="795" cy="600" rx="78" ry="118" transform="rotate(28 795 600)"/>
<ellipse class="f" cx="800" cy="600" rx="60" ry="98" transform="rotate(28 800 600)"/>
<ellipse class="wn" cx="790" cy="615" rx="30" ry="68" transform="rotate(28 790 615)"/>
<path class="wn" d="M670 570 L760 565 L762 585 L672 592Z"/>
<path class="k" d="M690 578 L750 573"/>
<path class="k" d="M1040 475 L1070 560 L1005 665 L1180 795"/>
<path class="k" d="M805 850 L905 845 L965 745 L1150 795"/>
<path class="w1" d="M1150 790 L1190 775 L1205 815 L1165 828Z"/>
</g>

<!-- 41_nut.svg -->
<g id="nut" transform="translate(30,500) scale(0.12739)">
<path class="f" d="M160 370 L250 225 L380 195 L440 235 L455 330 L372 470 L265 505 L192 460Z"/>
<path class="wn" d="M262 405 L305 285 L402 240 L440 248 L445 328 L370 458 L272 488Z"/>
<ellipse class="f" cx="350" cy="365" rx="68" ry="100" transform="rotate(28 350 365)"/>
<path class="wk" d="M335 300 C330 310 307.8 338.3 305 360 C302.2 381.7 315.8 418.3 318 430" style="stroke-width:0.90"/>
<path class="wk" d="M353 308 C348.3 318 327.5 346.8 325 368 C322.5 389.2 335.8 423.8 338 435" style="stroke-width:0.90"/>
<path class="wk" d="M371 316 C366.7 326 347.2 355.3 345 376 C342.8 396.7 355.8 429.3 358 440" style="stroke-width:0.90"/>
<path class="wk" d="M265 250 L300 262"/>
<path class="wk" d="M195 365 L235 378"/>
<ellipse class="f" cx="585" cy="515" rx="112" ry="150" transform="rotate(28 585 515)"/>
<ellipse class="wn" cx="596" cy="520" rx="84" ry="122" transform="rotate(28 596 520)"/>
<ellipse class="f" cx="600" cy="522" rx="66" ry="100" transform="rotate(28 600 522)"/>
<ellipse class="wn" cx="578" cy="540" rx="30" ry="66" transform="rotate(28 578 540)"/>
<path class="k" d="M810 430 L825 490 L775 585 L878 700"/>
<path class="k" d="M605 760 C614.2 757 640 757.8 660 742 C680 726.2 714.2 677.8 725 665"/>
<path class="k" d="M725 665 L850 700"/>
<path class="w1" d="M845 690 L880 665 L890 708 L850 715Z"/>
</g>

<!-- 80_leaders.svg -->
<g id="leaders" class="ln">
<path d="M205.5 89.8 L465 89.8 L343.6 505"/>
<path d="M204.4 128 L305.5 128 L252.7 338 L214.8 399.3 L117.7 550"/>
<path d="M203.6 166 L275 166 L243.4 299 L148.5 433.2 M111.5 484.2 L83.8 527"/>
<path d="M205.5 205 L243.4 205 L227.4 274.8 L143 318.3"/>
<path d="M205.5 241.7 L218.5 241.7 L214.8 260 L91 293.4"/>
<path d="M100.3 260 L118.9 258.1 L479.6 473.9 M509.5 492.8 L531.4 504.5 L567 498.7 L564.9 494.5 L584 493.4 L575.5 506.2 L573.4 501.9 L563.9 521 L568.1 527.4 L838 690 L835 706"/>
<path d="M1179 64.5 L1069.8 64.5 L1030.2 155.2"/>
<path d="M1176 637.5 L981.5 640.1"/>
<path d="M1176 761.8 L843 762 L631.3 590.3"/>
<path d="M210.4 730.8 L224.8 729.9 L222.6 613"/>
<path d="M42.6 758.4 L245.1 752.8 L257.7 580.8"/>
<path d="M38 743 L26.9 743 L27.6 785.8 L42.6 785.8"/>
<path d="M45.3 812 L258.6 808 L330.3 629.6"/>
<path d="M40.8 824.6 L30.5 824.6 L30.8 864.3 L46.2 864.3"/>
<path d="M212.2 836.3 L322.4 835.1 L377.5 698"/>
<path d="M428 485.8 L416 486 L415.2 805.5 L449.6 831"/>
<path d="M530.9 517 L548 517 L609.8 831"/>
<!-- braces -->
<path d="M43 719 C37 721 37.2 726 37.2 730 L37.6 756 C37.6 762 39 765 43.5 766" style="stroke-width:2.44"/>
<path d="M45.5 803.8 C40 806 40.2 811 40.2 816 L40.4 838 C40.4 845 42 848 47 849" style="stroke-width:2.44"/>
<!-- dashed -->
<path d="M184 358 L193.2 366 L193.2 417.7 L226.9 439.2" style="stroke-dasharray:8 4;stroke-width:1.80"/>
<!-- part 3 arrow -->
<path d="M601 615 L604.2 621.3 L617.8 622.1 L621 646.8 L624.9 622.1 L638.5 621.3 L642.5 615.7" style="stroke-width:1.20"/>
</g>
<!-- grease fitting part 3 -->
<g id="gf3">
<path class="f" d="M613 571 C613 566 628 566 629 571 L632 586 C632 592 628 594 627 596 L627 602 L615 602 L615 596 C611 593 610 590 610 586 Z"/>
<path class="wk" d="M615 574 C618 570 625 570 627 574 M611.5 582 C617 586 625 586 631 582 M612 589 C617 592 625 592 630.5 589 M616 599 L626 599" style="stroke-width:1.00"/>
<ellipse cx="621" cy="572" rx="5" ry="2.2" fill="#fff" opacity="0.85"/>
</g>

<!-- 90_labels.svg -->
<g id="labels" class="lb">
<text x="55.7" y="98.5" textLength="13" lengthAdjust="spacingAndGlyphs">11</text>
<text x="94.8" y="98.5" textLength="78.7" lengthAdjust="spacingAndGlyphs">69-2401040</text>
<text x="57.6" y="136.5" textLength="7.4" lengthAdjust="spacingAndGlyphs">8</text>
<text x="94.8" y="136.5" textLength="75" lengthAdjust="spacingAndGlyphs">252136-П2</text>
<text x="57.6" y="173" textLength="15" lengthAdjust="spacingAndGlyphs">10</text>
<text x="94.8" y="173" textLength="80.6" lengthAdjust="spacingAndGlyphs">250513-П29</text>
<text x="58.7" y="211.5" textLength="7.4" lengthAdjust="spacingAndGlyphs">9</text>
<text x="94.8" y="211.5" textLength="73.2" lengthAdjust="spacingAndGlyphs">252136-П2</text>
<text x="57.6" y="250" textLength="7.4" lengthAdjust="spacingAndGlyphs">8</text>
<text x="92.9" y="250" textLength="81" lengthAdjust="spacingAndGlyphs">201497-П29</text>
<text x="1179.7" y="72.5" textLength="6" lengthAdjust="spacingAndGlyphs">1</text>
<text x="1211.6" y="72.5" textLength="127.8" lengthAdjust="spacingAndGlyphs">469Б-2300010-01</text>
<text x="1177.1" y="644.3" textLength="7.7" lengthAdjust="spacingAndGlyphs">2</text>
<text x="1213.4" y="644.3" textLength="126" lengthAdjust="spacingAndGlyphs">469Б-2300015-01</text>
<text x="1176.6" y="770" textLength="7.7" lengthAdjust="spacingAndGlyphs">3</text>
<text x="1209.1" y="770" textLength="69" lengthAdjust="spacingAndGlyphs">308387-П</text>
<text x="41.3" y="741" textLength="6.7" lengthAdjust="spacingAndGlyphs">7</text>
<text x="75.9" y="740" textLength="113.7" lengthAdjust="spacingAndGlyphs" transform="rotate(-0.6 75.9 740)">469Б-2301013-01</text>
<text x="43.1" y="792.3" textLength="6.9" lengthAdjust="spacingAndGlyphs">6</text>
<text x="77.8" y="791.2" textLength="132.6" lengthAdjust="spacingAndGlyphs" transform="rotate(-0.8 77.8 791)">ВК-469Б-2300105-01</text>
<text x="46.2" y="845" textLength="6.5" lengthAdjust="spacingAndGlyphs">5</text>
<text x="79.6" y="844" textLength="114.6" lengthAdjust="spacingAndGlyphs">469Б-2301010-01</text>
<text x="46.2" y="871.5" textLength="7.2" lengthAdjust="spacingAndGlyphs">4</text>
<text x="79.6" y="870" textLength="132.6" lengthAdjust="spacingAndGlyphs">ВК-469Б-2306104-01</text>
<text x="429.2" y="491.2" textLength="13.1" lengthAdjust="spacingAndGlyphs">12</text>
<text x="459.1" y="491.2" textLength="67.2" lengthAdjust="spacingAndGlyphs">А-24457-А</text>
<text x="429.2" y="525" textLength="13.1" lengthAdjust="spacingAndGlyphs">13</text>
<text x="459.1" y="525" textLength="70.3" lengthAdjust="spacingAndGlyphs">290773-П8</text>
</g>
<text class="cap" x="17" y="928" textLength="886" lengthAdjust="spacing" style="word-spacing:3px">Рис. 54. Мост передний ведущий в сборе (2300), картер с кожухами полуосей переднего моста (2301)</text>

<!-- 95_wm.svg -->
<g id="wm" style="mix-blend-mode:multiply">
<circle cx="684" cy="420.5" r="185" fill="#dbdbdb"/>
<g fill="#fff">
<rect x="662.7" y="234" width="41.1" height="163.5"/>
<rect x="662.7" y="441.4" width="41.1" height="166"/>
<path d="M664 318 L625 318 A81 81 0 1 0 625 480 L664 480 L664 439 L625 437 A38 38 0 1 1 625 361 L664 361 Z"/>
<path d="M703 523 L743 523 A81 81 0 1 0 743 361 L743 361 L743 404 A38 38 0 1 1 743 480 L703 480 Z"/>
</g>
<text class="wm" x="464.8" y="680" font-size="79" textLength="440" lengthAdjust="spacing">data-parts</text>
</g>

</svg>
</body></html>
